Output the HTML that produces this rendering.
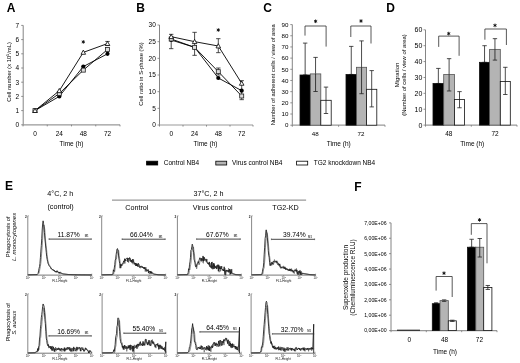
<!DOCTYPE html>
<html><head><meta charset="utf-8"><style>
html,body{margin:0;padding:0;background:#fff;overflow:hidden;}
svg{display:block;font-family:"Liberation Sans", sans-serif;filter:grayscale(1) blur(0.3px);}
text{stroke-linejoin:round;}
</style></head><body>
<svg width="520" height="363" viewBox="0 0 520 363">
<rect width="520" height="363" fill="#fff"/>
<text x="6.80" y="11.80" font-size="12" text-anchor="start" font-weight="bold" fill="#000">A</text>
<line x1="23.20" y1="125.30" x2="23.20" y2="25.40" stroke="#777" stroke-width="0.9"/>
<line x1="21.20" y1="124.80" x2="23.20" y2="124.80" stroke="#777" stroke-width="0.8"/>
<text x="19.10" y="127.14" font-size="6.5" text-anchor="end" fill="#000">0</text>
<line x1="21.20" y1="110.60" x2="23.20" y2="110.60" stroke="#777" stroke-width="0.8"/>
<text x="19.10" y="112.94" font-size="6.5" text-anchor="end" fill="#000">1</text>
<line x1="21.20" y1="96.40" x2="23.20" y2="96.40" stroke="#777" stroke-width="0.8"/>
<text x="19.10" y="98.74" font-size="6.5" text-anchor="end" fill="#000">2</text>
<line x1="21.20" y1="82.20" x2="23.20" y2="82.20" stroke="#777" stroke-width="0.8"/>
<text x="19.10" y="84.54" font-size="6.5" text-anchor="end" fill="#000">3</text>
<line x1="21.20" y1="68.00" x2="23.20" y2="68.00" stroke="#777" stroke-width="0.8"/>
<text x="19.10" y="70.34" font-size="6.5" text-anchor="end" fill="#000">4</text>
<line x1="21.20" y1="53.80" x2="23.20" y2="53.80" stroke="#777" stroke-width="0.8"/>
<text x="19.10" y="56.14" font-size="6.5" text-anchor="end" fill="#000">5</text>
<line x1="21.20" y1="39.60" x2="23.20" y2="39.60" stroke="#777" stroke-width="0.8"/>
<text x="19.10" y="41.94" font-size="6.5" text-anchor="end" fill="#000">6</text>
<line x1="21.20" y1="25.40" x2="23.20" y2="25.40" stroke="#777" stroke-width="0.8"/>
<text x="19.10" y="27.74" font-size="6.5" text-anchor="end" fill="#000">7</text>
<line x1="23.20" y1="124.80" x2="120.00" y2="124.80" stroke="#999" stroke-width="1.2"/>
<line x1="23.00" y1="124.80" x2="23.00" y2="126.40" stroke="#777" stroke-width="0.8"/>
<line x1="47.25" y1="124.80" x2="47.25" y2="126.40" stroke="#777" stroke-width="0.8"/>
<line x1="71.50" y1="124.80" x2="71.50" y2="126.40" stroke="#777" stroke-width="0.8"/>
<line x1="95.75" y1="124.80" x2="95.75" y2="126.40" stroke="#777" stroke-width="0.8"/>
<line x1="120.00" y1="124.80" x2="120.00" y2="126.40" stroke="#777" stroke-width="0.8"/>
<text x="35.00" y="136.00" font-size="6.5" text-anchor="middle" fill="#000">0</text>
<text x="59.30" y="136.00" font-size="6.5" text-anchor="middle" fill="#000">24</text>
<text x="83.30" y="136.00" font-size="6.5" text-anchor="middle" fill="#000">48</text>
<text x="107.50" y="136.00" font-size="6.5" text-anchor="middle" fill="#000">72</text>
<text x="71.50" y="146.00" font-size="6.5" text-anchor="middle" fill="#000">Time (h)</text>
<text x="11.00" y="71.90" font-size="5.8" text-anchor="middle" transform="rotate(-90 11.0 71.9)" fill="#000">Cell number (x 10<tspan dy="-1.8" font-size="3.8">5</tspan><tspan dy="1.8">/mL)</tspan></text>
<line x1="107.50" y1="41.45" x2="107.50" y2="45.56" stroke="#111" stroke-width="0.75"/>
<line x1="105.30" y1="41.45" x2="109.70" y2="41.45" stroke="#222" stroke-width="0.8"/>
<line x1="105.30" y1="45.56" x2="109.70" y2="45.56" stroke="#222" stroke-width="0.8"/>
<path d="M35.00,110.60 L59.30,96.40 L83.30,66.58 L107.50,53.80" stroke="#000" stroke-width="0.9" fill="none"/>
<path d="M35.00,110.60 L59.30,93.56 L83.30,70.13 L107.50,49.54" stroke="#000" stroke-width="0.9" fill="none"/>
<path d="M35.00,110.60 L59.30,90.72 L83.30,52.38 L107.50,43.58" stroke="#000" stroke-width="0.9" fill="none"/>
<circle cx="35.00" cy="110.60" r="2.1" fill="#000"/>
<circle cx="59.30" cy="96.40" r="2.1" fill="#000"/>
<circle cx="83.30" cy="66.58" r="2.1" fill="#000"/>
<circle cx="107.50" cy="53.80" r="2.1" fill="#000"/>
<rect x="33.00" y="108.60" width="4.0" height="4.0" fill="#ddd" stroke="#222" stroke-width="0.8"/>
<rect x="57.30" y="91.56" width="4.0" height="4.0" fill="#ddd" stroke="#222" stroke-width="0.8"/>
<rect x="81.30" y="68.13" width="4.0" height="4.0" fill="#ddd" stroke="#222" stroke-width="0.8"/>
<rect x="105.50" y="47.54" width="4.0" height="4.0" fill="#ddd" stroke="#222" stroke-width="0.8"/>
<path d="M35.00,108.30 L37.30,112.50 L32.70,112.50 Z" fill="#fff" stroke="#000" stroke-width="0.8"/>
<path d="M59.30,88.42 L61.60,92.62 L57.00,92.62 Z" fill="#fff" stroke="#000" stroke-width="0.8"/>
<path d="M83.30,50.08 L85.60,54.28 L81.00,54.28 Z" fill="#fff" stroke="#000" stroke-width="0.8"/>
<path d="M107.50,41.28 L109.80,45.48 L105.20,45.48 Z" fill="#fff" stroke="#000" stroke-width="0.8"/>
<path d="M83.30,40.10 L83.30,43.70 M84.86,41.00 L81.74,42.80 M84.86,42.80 L81.74,41.00 " stroke="#111" stroke-width="0.9" fill="none"/>
<circle cx="83.30" cy="41.90" r="0.7" fill="#111"/>
<text x="136.20" y="12.00" font-size="12" text-anchor="start" font-weight="bold" fill="#000">B</text>
<line x1="159.50" y1="125.50" x2="159.50" y2="25.01" stroke="#777" stroke-width="0.9"/>
<line x1="157.50" y1="125.00" x2="159.50" y2="125.00" stroke="#777" stroke-width="0.8"/>
<text x="155.80" y="127.34" font-size="6.5" text-anchor="end" fill="#000">0</text>
<line x1="157.50" y1="108.34" x2="159.50" y2="108.34" stroke="#777" stroke-width="0.8"/>
<text x="155.80" y="110.68" font-size="6.5" text-anchor="end" fill="#000">5</text>
<line x1="157.50" y1="91.67" x2="159.50" y2="91.67" stroke="#777" stroke-width="0.8"/>
<text x="155.80" y="94.01" font-size="6.5" text-anchor="end" fill="#000">10</text>
<line x1="157.50" y1="75.00" x2="159.50" y2="75.00" stroke="#777" stroke-width="0.8"/>
<text x="155.80" y="77.34" font-size="6.5" text-anchor="end" fill="#000">15</text>
<line x1="157.50" y1="58.34" x2="159.50" y2="58.34" stroke="#777" stroke-width="0.8"/>
<text x="155.80" y="60.68" font-size="6.5" text-anchor="end" fill="#000">20</text>
<line x1="157.50" y1="41.67" x2="159.50" y2="41.67" stroke="#777" stroke-width="0.8"/>
<text x="155.80" y="44.02" font-size="6.5" text-anchor="end" fill="#000">25</text>
<line x1="157.50" y1="25.01" x2="159.50" y2="25.01" stroke="#777" stroke-width="0.8"/>
<text x="155.80" y="27.35" font-size="6.5" text-anchor="end" fill="#000">30</text>
<line x1="159.50" y1="125.00" x2="253.00" y2="125.00" stroke="#999" stroke-width="1.2"/>
<line x1="159.50" y1="125.00" x2="159.50" y2="126.60" stroke="#777" stroke-width="0.8"/>
<line x1="183.00" y1="125.00" x2="183.00" y2="126.60" stroke="#777" stroke-width="0.8"/>
<line x1="206.50" y1="125.00" x2="206.50" y2="126.60" stroke="#777" stroke-width="0.8"/>
<line x1="230.00" y1="125.00" x2="230.00" y2="126.60" stroke="#777" stroke-width="0.8"/>
<line x1="253.00" y1="125.00" x2="253.00" y2="126.60" stroke="#777" stroke-width="0.8"/>
<text x="171.20" y="136.20" font-size="6.5" text-anchor="middle" fill="#000">0</text>
<text x="194.60" y="136.20" font-size="6.5" text-anchor="middle" fill="#000">24</text>
<text x="218.30" y="136.20" font-size="6.5" text-anchor="middle" fill="#000">48</text>
<text x="241.70" y="136.20" font-size="6.5" text-anchor="middle" fill="#000">72</text>
<text x="205.50" y="146.20" font-size="6.5" text-anchor="middle" fill="#000">Time (h)</text>
<text x="142.50" y="74.00" font-size="5.85" text-anchor="middle" transform="rotate(-90 142.5 74)" fill="#000">Cell ratio in S-phase (%)</text>
<line x1="171.20" y1="34.34" x2="171.20" y2="48.67" stroke="#111" stroke-width="0.75"/>
<line x1="169.00" y1="34.34" x2="173.40" y2="34.34" stroke="#222" stroke-width="0.8"/>
<line x1="169.00" y1="48.67" x2="173.40" y2="48.67" stroke="#222" stroke-width="0.8"/>
<line x1="194.60" y1="32.34" x2="194.60" y2="55.34" stroke="#111" stroke-width="0.75"/>
<line x1="192.40" y1="32.34" x2="196.80" y2="32.34" stroke="#222" stroke-width="0.8"/>
<line x1="192.40" y1="55.34" x2="196.80" y2="55.34" stroke="#222" stroke-width="0.8"/>
<line x1="218.30" y1="38.68" x2="218.30" y2="52.67" stroke="#111" stroke-width="0.75"/>
<line x1="216.10" y1="38.68" x2="220.50" y2="38.68" stroke="#222" stroke-width="0.8"/>
<line x1="216.10" y1="52.67" x2="220.50" y2="52.67" stroke="#222" stroke-width="0.8"/>
<line x1="218.30" y1="68.01" x2="218.30" y2="75.00" stroke="#111" stroke-width="0.75"/>
<line x1="216.10" y1="68.01" x2="220.50" y2="68.01" stroke="#222" stroke-width="0.8"/>
<line x1="216.10" y1="75.00" x2="220.50" y2="75.00" stroke="#222" stroke-width="0.8"/>
<line x1="241.70" y1="80.67" x2="241.70" y2="99.67" stroke="#111" stroke-width="0.75"/>
<line x1="239.50" y1="80.67" x2="243.90" y2="80.67" stroke="#222" stroke-width="0.8"/>
<line x1="239.50" y1="99.67" x2="243.90" y2="99.67" stroke="#222" stroke-width="0.8"/>
<path d="M171.20,40.01 L194.60,47.34 L218.30,78.00 L241.70,90.67" stroke="#000" stroke-width="0.9" fill="none"/>
<path d="M171.20,39.01 L194.60,47.34 L218.30,71.67 L241.70,96.00" stroke="#000" stroke-width="0.9" fill="none"/>
<path d="M171.20,36.68 L194.60,41.67 L218.30,46.01 L241.70,83.34" stroke="#000" stroke-width="0.9" fill="none"/>
<circle cx="171.20" cy="40.01" r="2.1" fill="#000"/>
<circle cx="194.60" cy="47.34" r="2.1" fill="#000"/>
<circle cx="218.30" cy="78.00" r="2.1" fill="#000"/>
<circle cx="241.70" cy="90.67" r="2.1" fill="#000"/>
<rect x="169.20" y="37.01" width="4.0" height="4.0" fill="#ddd" stroke="#222" stroke-width="0.8"/>
<rect x="192.60" y="45.34" width="4.0" height="4.0" fill="#ddd" stroke="#222" stroke-width="0.8"/>
<rect x="216.30" y="69.67" width="4.0" height="4.0" fill="#ddd" stroke="#222" stroke-width="0.8"/>
<rect x="239.70" y="94.00" width="4.0" height="4.0" fill="#ddd" stroke="#222" stroke-width="0.8"/>
<path d="M171.20,34.38 L173.50,38.58 L168.90,38.58 Z" fill="#fff" stroke="#000" stroke-width="0.8"/>
<path d="M194.60,39.38 L196.90,43.57 L192.30,43.57 Z" fill="#fff" stroke="#000" stroke-width="0.8"/>
<path d="M218.30,43.71 L220.60,47.91 L216.00,47.91 Z" fill="#fff" stroke="#000" stroke-width="0.8"/>
<path d="M241.70,81.04 L244.00,85.24 L239.40,85.24 Z" fill="#fff" stroke="#000" stroke-width="0.8"/>
<path d="M218.30,28.20 L218.30,31.80 M219.86,29.10 L216.74,30.90 M219.86,30.90 L216.74,29.10 " stroke="#111" stroke-width="0.9" fill="none"/>
<circle cx="218.30" cy="30.00" r="0.7" fill="#111"/>
<text x="263.20" y="12.00" font-size="12" text-anchor="start" font-weight="bold" fill="#000">C</text>
<line x1="292.30" y1="125.70" x2="292.30" y2="24.58" stroke="#777" stroke-width="0.9"/>
<line x1="290.30" y1="125.20" x2="292.30" y2="125.20" stroke="#777" stroke-width="0.8"/>
<text x="288.40" y="127.43" font-size="6.2" text-anchor="end" fill="#000">0</text>
<line x1="290.30" y1="114.02" x2="292.30" y2="114.02" stroke="#777" stroke-width="0.8"/>
<text x="288.40" y="116.25" font-size="6.2" text-anchor="end" fill="#000">10</text>
<line x1="290.30" y1="102.84" x2="292.30" y2="102.84" stroke="#777" stroke-width="0.8"/>
<text x="288.40" y="105.07" font-size="6.2" text-anchor="end" fill="#000">20</text>
<line x1="290.30" y1="91.66" x2="292.30" y2="91.66" stroke="#777" stroke-width="0.8"/>
<text x="288.40" y="93.89" font-size="6.2" text-anchor="end" fill="#000">30</text>
<line x1="290.30" y1="80.48" x2="292.30" y2="80.48" stroke="#777" stroke-width="0.8"/>
<text x="288.40" y="82.71" font-size="6.2" text-anchor="end" fill="#000">40</text>
<line x1="290.30" y1="69.30" x2="292.30" y2="69.30" stroke="#777" stroke-width="0.8"/>
<text x="288.40" y="71.53" font-size="6.2" text-anchor="end" fill="#000">50</text>
<line x1="290.30" y1="58.12" x2="292.30" y2="58.12" stroke="#777" stroke-width="0.8"/>
<text x="288.40" y="60.35" font-size="6.2" text-anchor="end" fill="#000">60</text>
<line x1="290.30" y1="46.94" x2="292.30" y2="46.94" stroke="#777" stroke-width="0.8"/>
<text x="288.40" y="49.17" font-size="6.2" text-anchor="end" fill="#000">70</text>
<line x1="290.30" y1="35.76" x2="292.30" y2="35.76" stroke="#777" stroke-width="0.8"/>
<text x="288.40" y="37.99" font-size="6.2" text-anchor="end" fill="#000">80</text>
<line x1="290.30" y1="24.58" x2="292.30" y2="24.58" stroke="#777" stroke-width="0.8"/>
<text x="288.40" y="26.81" font-size="6.2" text-anchor="end" fill="#000">90</text>
<line x1="292.30" y1="125.20" x2="385.00" y2="125.20" stroke="#999" stroke-width="1.2"/>
<line x1="292.30" y1="125.20" x2="292.30" y2="126.80" stroke="#777" stroke-width="0.8"/>
<line x1="338.60" y1="125.20" x2="338.60" y2="126.80" stroke="#777" stroke-width="0.8"/>
<line x1="385.00" y1="125.20" x2="385.00" y2="126.80" stroke="#777" stroke-width="0.8"/>
<text x="315.20" y="136.00" font-size="6.2" text-anchor="middle" fill="#000">48</text>
<text x="361.00" y="136.00" font-size="6.2" text-anchor="middle" fill="#000">72</text>
<text x="338.70" y="146.00" font-size="6.5" text-anchor="middle" fill="#000">Time (h)</text>
<text x="275.00" y="74.70" font-size="5.8" text-anchor="middle" transform="rotate(-90 275.0 74.7)" fill="#000">Number of adherent cells / view of area</text>
<line x1="305.15" y1="43.10" x2="305.15" y2="75.00" stroke="#111" stroke-width="0.75"/>
<line x1="302.95" y1="43.10" x2="307.35" y2="43.10" stroke="#222" stroke-width="0.8"/>
<line x1="302.95" y1="75.00" x2="307.35" y2="75.00" stroke="#222" stroke-width="0.8"/>
<rect x="300.00" y="75.00" width="10.30" height="50.20" fill="#000" stroke="#111" stroke-width="0.8"/>
<line x1="315.55" y1="57.40" x2="315.55" y2="91.50" stroke="#111" stroke-width="0.75"/>
<line x1="313.35" y1="57.40" x2="317.75" y2="57.40" stroke="#222" stroke-width="0.8"/>
<line x1="313.35" y1="91.50" x2="317.75" y2="91.50" stroke="#222" stroke-width="0.8"/>
<rect x="310.30" y="73.90" width="10.50" height="51.30" fill="#b4b4b4" stroke="#555" stroke-width="0.8"/>
<line x1="315.55" y1="73.90" x2="315.55" y2="91.50" stroke="#111" stroke-width="0.75"/>
<line x1="313.35" y1="91.50" x2="317.75" y2="91.50" stroke="#222" stroke-width="0.8"/>
<line x1="326.00" y1="87.10" x2="326.00" y2="113.50" stroke="#111" stroke-width="0.75"/>
<line x1="323.80" y1="87.10" x2="328.20" y2="87.10" stroke="#222" stroke-width="0.8"/>
<line x1="323.80" y1="113.50" x2="328.20" y2="113.50" stroke="#222" stroke-width="0.8"/>
<rect x="320.80" y="100.30" width="10.40" height="24.90" fill="#fff" stroke="#111" stroke-width="0.8"/>
<line x1="326.00" y1="100.30" x2="326.00" y2="113.50" stroke="#111" stroke-width="0.75"/>
<line x1="323.80" y1="113.50" x2="328.20" y2="113.50" stroke="#222" stroke-width="0.8"/>
<line x1="351.25" y1="46.40" x2="351.25" y2="74.45" stroke="#111" stroke-width="0.75"/>
<line x1="349.05" y1="46.40" x2="353.45" y2="46.40" stroke="#222" stroke-width="0.8"/>
<line x1="349.05" y1="74.45" x2="353.45" y2="74.45" stroke="#222" stroke-width="0.8"/>
<rect x="346.00" y="74.45" width="10.50" height="50.75" fill="#000" stroke="#111" stroke-width="0.8"/>
<line x1="361.55" y1="40.90" x2="361.55" y2="93.70" stroke="#111" stroke-width="0.75"/>
<line x1="359.35" y1="40.90" x2="363.75" y2="40.90" stroke="#222" stroke-width="0.8"/>
<line x1="359.35" y1="93.70" x2="363.75" y2="93.70" stroke="#222" stroke-width="0.8"/>
<rect x="356.50" y="67.30" width="10.10" height="57.90" fill="#b4b4b4" stroke="#555" stroke-width="0.8"/>
<line x1="361.55" y1="67.30" x2="361.55" y2="93.70" stroke="#111" stroke-width="0.75"/>
<line x1="359.35" y1="93.70" x2="363.75" y2="93.70" stroke="#222" stroke-width="0.8"/>
<line x1="371.70" y1="70.60" x2="371.70" y2="106.90" stroke="#111" stroke-width="0.75"/>
<line x1="369.50" y1="70.60" x2="373.90" y2="70.60" stroke="#222" stroke-width="0.8"/>
<line x1="369.50" y1="106.90" x2="373.90" y2="106.90" stroke="#222" stroke-width="0.8"/>
<rect x="366.60" y="89.30" width="10.20" height="35.90" fill="#fff" stroke="#111" stroke-width="0.8"/>
<line x1="371.70" y1="89.30" x2="371.70" y2="106.90" stroke="#111" stroke-width="0.75"/>
<line x1="369.50" y1="106.90" x2="373.90" y2="106.90" stroke="#222" stroke-width="0.8"/>
<path d="M305.00,35.60 L305.00,26.00 L326.10,26.00 L326.10,46.60" stroke="#222" stroke-width="0.75" fill="none"/>
<path d="M315.60,19.50 L315.60,23.10 M317.16,20.40 L314.04,22.20 M317.16,22.20 L314.04,20.40 " stroke="#111" stroke-width="0.9" fill="none"/>
<circle cx="315.60" cy="21.30" r="0.7" fill="#111"/>
<path d="M350.80,37.00 L350.80,26.00 L371.00,26.00 L371.00,43.50" stroke="#222" stroke-width="0.75" fill="none"/>
<path d="M361.00,19.20 L361.00,22.80 M362.56,20.10 L359.44,21.90 M362.56,21.90 L359.44,20.10 " stroke="#111" stroke-width="0.9" fill="none"/>
<circle cx="361.00" cy="21.00" r="0.7" fill="#111"/>
<text x="386.20" y="11.70" font-size="12" text-anchor="start" font-weight="bold" fill="#000">D</text>
<line x1="425.50" y1="125.60" x2="425.50" y2="29.82" stroke="#777" stroke-width="0.9"/>
<line x1="423.50" y1="125.10" x2="425.50" y2="125.10" stroke="#777" stroke-width="0.8"/>
<text x="422.40" y="127.62" font-size="7.0" text-anchor="end" fill="#000">0</text>
<line x1="423.50" y1="109.22" x2="425.50" y2="109.22" stroke="#777" stroke-width="0.8"/>
<text x="422.40" y="111.74" font-size="7.0" text-anchor="end" fill="#000">10</text>
<line x1="423.50" y1="93.34" x2="425.50" y2="93.34" stroke="#777" stroke-width="0.8"/>
<text x="422.40" y="95.86" font-size="7.0" text-anchor="end" fill="#000">20</text>
<line x1="423.50" y1="77.46" x2="425.50" y2="77.46" stroke="#777" stroke-width="0.8"/>
<text x="422.40" y="79.98" font-size="7.0" text-anchor="end" fill="#000">30</text>
<line x1="423.50" y1="61.58" x2="425.50" y2="61.58" stroke="#777" stroke-width="0.8"/>
<text x="422.40" y="64.10" font-size="7.0" text-anchor="end" fill="#000">40</text>
<line x1="423.50" y1="45.70" x2="425.50" y2="45.70" stroke="#777" stroke-width="0.8"/>
<text x="422.40" y="48.22" font-size="7.0" text-anchor="end" fill="#000">50</text>
<line x1="423.50" y1="29.82" x2="425.50" y2="29.82" stroke="#777" stroke-width="0.8"/>
<text x="422.40" y="32.34" font-size="7.0" text-anchor="end" fill="#000">60</text>
<line x1="425.50" y1="125.10" x2="517.00" y2="125.10" stroke="#999" stroke-width="1.2"/>
<line x1="425.50" y1="125.10" x2="425.50" y2="126.70" stroke="#777" stroke-width="0.8"/>
<line x1="471.30" y1="125.10" x2="471.30" y2="126.70" stroke="#777" stroke-width="0.8"/>
<line x1="517.00" y1="125.10" x2="517.00" y2="126.70" stroke="#777" stroke-width="0.8"/>
<text x="448.80" y="136.20" font-size="6.5" text-anchor="middle" fill="#000">48</text>
<text x="495.10" y="136.20" font-size="6.5" text-anchor="middle" fill="#000">72</text>
<text x="472.30" y="146.10" font-size="6.5" text-anchor="middle" fill="#000">Time (h)</text>
<text x="398.70" y="75.00" font-size="6.0" text-anchor="middle" transform="rotate(-90 398.7 75)" fill="#000">Migration</text>
<text x="405.90" y="75.00" font-size="5.9" text-anchor="middle" transform="rotate(-90 405.9 75)" fill="#000">(Number of cells / view of area)</text>
<line x1="438.35" y1="68.42" x2="438.35" y2="83.46" stroke="#111" stroke-width="0.75"/>
<line x1="436.15" y1="68.42" x2="440.55" y2="68.42" stroke="#222" stroke-width="0.8"/>
<line x1="436.15" y1="83.46" x2="440.55" y2="83.46" stroke="#222" stroke-width="0.8"/>
<rect x="433.00" y="83.46" width="10.70" height="41.64" fill="#000" stroke="#111" stroke-width="0.8"/>
<line x1="449.10" y1="58.66" x2="449.10" y2="90.98" stroke="#111" stroke-width="0.75"/>
<line x1="446.90" y1="58.66" x2="451.30" y2="58.66" stroke="#222" stroke-width="0.8"/>
<line x1="446.90" y1="90.98" x2="451.30" y2="90.98" stroke="#222" stroke-width="0.8"/>
<rect x="443.70" y="74.50" width="10.80" height="50.60" fill="#b4b4b4" stroke="#555" stroke-width="0.8"/>
<line x1="449.10" y1="74.50" x2="449.10" y2="90.98" stroke="#111" stroke-width="0.75"/>
<line x1="446.90" y1="90.98" x2="451.30" y2="90.98" stroke="#222" stroke-width="0.8"/>
<line x1="459.50" y1="91.62" x2="459.50" y2="107.78" stroke="#111" stroke-width="0.75"/>
<line x1="457.30" y1="91.62" x2="461.70" y2="91.62" stroke="#222" stroke-width="0.8"/>
<line x1="457.30" y1="107.78" x2="461.70" y2="107.78" stroke="#222" stroke-width="0.8"/>
<rect x="454.50" y="99.46" width="10.00" height="25.64" fill="#fff" stroke="#111" stroke-width="0.8"/>
<line x1="459.50" y1="99.46" x2="459.50" y2="107.78" stroke="#111" stroke-width="0.75"/>
<line x1="457.30" y1="107.78" x2="461.70" y2="107.78" stroke="#222" stroke-width="0.8"/>
<line x1="484.55" y1="45.70" x2="484.55" y2="62.34" stroke="#111" stroke-width="0.75"/>
<line x1="482.35" y1="45.70" x2="486.75" y2="45.70" stroke="#222" stroke-width="0.8"/>
<line x1="482.35" y1="62.34" x2="486.75" y2="62.34" stroke="#222" stroke-width="0.8"/>
<rect x="479.50" y="62.34" width="10.10" height="62.76" fill="#000" stroke="#111" stroke-width="0.8"/>
<line x1="494.95" y1="38.66" x2="494.95" y2="60.10" stroke="#111" stroke-width="0.75"/>
<line x1="492.75" y1="38.66" x2="497.15" y2="38.66" stroke="#222" stroke-width="0.8"/>
<line x1="492.75" y1="60.10" x2="497.15" y2="60.10" stroke="#222" stroke-width="0.8"/>
<rect x="489.60" y="49.38" width="10.70" height="75.72" fill="#b4b4b4" stroke="#555" stroke-width="0.8"/>
<line x1="494.95" y1="49.38" x2="494.95" y2="60.10" stroke="#111" stroke-width="0.75"/>
<line x1="492.75" y1="60.10" x2="497.15" y2="60.10" stroke="#222" stroke-width="0.8"/>
<line x1="505.30" y1="67.30" x2="505.30" y2="94.50" stroke="#111" stroke-width="0.75"/>
<line x1="503.10" y1="67.30" x2="507.50" y2="67.30" stroke="#222" stroke-width="0.8"/>
<line x1="503.10" y1="94.50" x2="507.50" y2="94.50" stroke="#222" stroke-width="0.8"/>
<rect x="500.30" y="81.54" width="10.00" height="43.56" fill="#fff" stroke="#111" stroke-width="0.8"/>
<line x1="505.30" y1="81.54" x2="505.30" y2="94.50" stroke="#111" stroke-width="0.75"/>
<line x1="503.10" y1="94.50" x2="507.50" y2="94.50" stroke="#222" stroke-width="0.8"/>
<path d="M438.70,46.90 L438.70,36.10 L459.10,36.10 L459.10,55.80" stroke="#222" stroke-width="0.75" fill="none"/>
<path d="M448.70,31.80 L448.70,35.40 M450.26,32.70 L447.14,34.50 M450.26,34.50 L447.14,32.70 " stroke="#111" stroke-width="0.9" fill="none"/>
<circle cx="448.70" cy="33.60" r="0.7" fill="#111"/>
<path d="M484.90,39.70 L484.90,29.00 L506.40,29.00 L506.40,45.00" stroke="#222" stroke-width="0.75" fill="none"/>
<path d="M495.00,23.60 L495.00,27.20 M496.56,24.50 L493.44,26.30 M496.56,26.30 L493.44,24.50 " stroke="#111" stroke-width="0.9" fill="none"/>
<circle cx="495.00" cy="25.40" r="0.7" fill="#111"/>
<rect x="146.60" y="161.20" width="11.10" height="3.80" fill="#000" stroke="#000" stroke-width="0.8"/>
<text x="163.80" y="165.10" font-size="6.5" text-anchor="start" fill="#000">Control NB4</text>
<rect x="215.80" y="161.20" width="10.90" height="3.80" fill="#b4b4b4" stroke="#000" stroke-width="0.8"/>
<text x="232.00" y="165.10" font-size="6.5" text-anchor="start" fill="#000">Virus control NB4</text>
<rect x="296.60" y="161.20" width="11.10" height="3.80" fill="#fff" stroke="#000" stroke-width="0.8"/>
<text x="313.80" y="165.10" font-size="6.5" text-anchor="start" fill="#000">TG2 knockdown NB4</text>
<text x="5.10" y="189.80" font-size="12" text-anchor="start" font-weight="bold" fill="#000">E</text>
<text x="60.30" y="196.20" font-size="7.2" text-anchor="middle" fill="#000">4°C, 2 h</text>
<text x="60.60" y="209.40" font-size="7.2" text-anchor="middle" fill="#000">(control)</text>
<line x1="112.00" y1="200.10" x2="306.10" y2="200.10" stroke="#999" stroke-width="1.2"/>
<text x="208.50" y="196.00" font-size="7.2" text-anchor="middle" fill="#000">37°C, 2 h</text>
<text x="136.80" y="209.90" font-size="7.2" text-anchor="middle" fill="#000">Control</text>
<text x="212.70" y="209.90" font-size="7.2" text-anchor="middle" fill="#000">Virus control</text>
<text x="285.50" y="209.90" font-size="7.2" text-anchor="middle" fill="#000">TG2-KD</text>
<text x="10.20" y="236.80" font-size="5.8" text-anchor="middle" transform="rotate(-90 10.2 236.8)" fill="#000">Phagocytosis of</text>
<text x="16.30" y="237.00" font-size="5.9" text-anchor="middle" transform="rotate(-90 16.3 237.0)" fill="#000"><tspan font-style="italic">L. monocytogenes</tspan></text>
<text x="9.60" y="322.20" font-size="5.4" text-anchor="middle" transform="rotate(-90 9.6 322.2)" fill="#000">Phagocytosis of</text>
<text x="15.80" y="322.60" font-size="5.5" text-anchor="middle" transform="rotate(-90 15.8 322.6)" fill="#000"><tspan font-style="italic">S. aureus</tspan></text>
<line x1="27.80" y1="215.80" x2="27.80" y2="275.10" stroke="#888" stroke-width="1.0"/>
<line x1="27.80" y1="215.80" x2="29.00" y2="215.80" stroke="#888" stroke-width="0.6"/>
<line x1="27.80" y1="275.10" x2="91.80" y2="275.10" stroke="#777" stroke-width="1.0"/>
<line x1="91.80" y1="275.10" x2="91.80" y2="273.60" stroke="#888" stroke-width="0.6"/>
<line x1="27.80" y1="275.10" x2="27.80" y2="276.10" stroke="#666" stroke-width="0.5"/>
<text x="27.80" y="278.50" font-size="2.9" text-anchor="middle" fill="#222">10<tspan dy="-0.8" font-size="1.8">0</tspan></text>
<line x1="43.80" y1="275.10" x2="43.80" y2="276.10" stroke="#666" stroke-width="0.5"/>
<text x="43.80" y="278.50" font-size="2.9" text-anchor="middle" fill="#222">10<tspan dy="-0.8" font-size="1.8">1</tspan></text>
<line x1="59.80" y1="275.10" x2="59.80" y2="276.10" stroke="#666" stroke-width="0.5"/>
<text x="59.80" y="278.50" font-size="2.9" text-anchor="middle" fill="#222">10<tspan dy="-0.8" font-size="1.8">2</tspan></text>
<line x1="75.80" y1="275.10" x2="75.80" y2="276.10" stroke="#666" stroke-width="0.5"/>
<text x="75.80" y="278.50" font-size="2.9" text-anchor="middle" fill="#222">10<tspan dy="-0.8" font-size="1.8">3</tspan></text>
<line x1="91.80" y1="275.10" x2="91.80" y2="276.10" stroke="#666" stroke-width="0.5"/>
<text x="91.80" y="278.50" font-size="2.9" text-anchor="middle" fill="#222">10<tspan dy="-0.8" font-size="1.8">4</tspan></text>
<text x="59.80" y="281.70" font-size="3.1" text-anchor="middle" fill="#111">FL1-Height</text>
<text x="26.80" y="217.80" font-size="3.2" text-anchor="end" font-weight="bold" fill="#222">2</text>
<path d="M28.60,274.80 L29.05,274.79 L29.50,274.78 L29.95,274.77 L30.40,274.76 L30.85,274.75 L31.30,274.74 L31.75,274.73 L32.20,274.72 L32.65,274.71 L33.10,274.70 L33.55,274.69 L34.00,274.68 L34.45,274.67 L34.90,274.66 L35.35,274.65 L35.80,274.64 L36.25,274.63 L36.70,274.62 L37.15,274.61 L37.60,274.60 L38.05,274.15 L38.50,273.70 L38.95,273.25 L39.40,271.68 L39.85,269.02 L40.30,266.75 L40.75,263.72 L41.20,259.39 L41.65,253.30 L42.10,247.69 L42.55,240.60 L43.00,233.09 L43.45,227.49 L43.90,225.02 L44.35,226.86 L44.80,229.64 L45.25,235.73 L45.70,242.08 L46.15,245.57 L46.60,249.77 L47.05,254.51 L47.50,258.04 L47.95,260.95 L48.40,262.36 L48.85,264.41 L49.30,264.81 L49.75,265.65 L50.20,266.65 L50.65,266.70 L51.10,267.86 L51.55,268.68 L52.00,269.31 L52.45,270.31 L52.90,269.78 L53.35,269.82 L53.80,270.94 L54.25,270.06 L54.70,271.21 L55.15,272.06 L55.60,271.16 L56.05,272.49 L56.50,272.19 L56.95,272.23 L57.40,270.64 L57.85,272.18 L58.30,272.00 L58.75,271.97 L59.20,273.39 L59.65,273.25 L60.10,271.83 L60.55,273.55 L61.00,272.58 L61.45,273.10 L61.90,273.27 L62.35,273.44 L62.80,273.60 L63.25,273.77 L63.70,273.91 L64.15,273.97 L64.60,274.02 L65.05,274.07 L65.50,274.13 L65.95,274.18 L66.40,274.24 L66.85,274.29 L67.30,274.34 L67.75,274.40 L68.20,274.45 L68.65,274.50 L69.10,274.52 L69.55,274.53 L70.00,274.54 L70.45,274.56 L70.90,274.57 L71.35,274.58 L71.80,274.60 L72.25,274.61 L72.70,274.62 L73.15,274.64 L73.60,274.65 L74.05,274.66 L74.50,274.68 L74.95,274.69 L75.40,274.70 L75.85,274.72 L76.30,274.73 L76.75,274.74 L77.20,274.76 L77.65,274.77 L78.10,274.79 L78.55,274.80 L79.00,274.80 L79.45,274.81 L79.90,274.81 L80.35,274.81 L80.80,274.82 L81.25,274.82 L81.70,274.82 L82.15,274.83 L82.60,274.83 L83.05,274.83 L83.50,274.84 L83.95,274.84 L84.40,274.84 L84.85,274.84 L85.30,274.85 L85.75,274.85 L86.20,274.85 L86.65,274.86 L87.10,274.86 L87.55,274.86 L88.00,274.87 L88.45,274.87 L88.90,274.87 L89.35,274.88 L89.80,274.88 L90.25,274.88 L90.70,274.89 L91.15,274.89 L91.60,274.89" stroke="#555" stroke-width="0.65" fill="none"/>
<path d="M27.80,274.80 L28.25,274.79 L28.70,274.78 L29.15,274.77 L29.60,274.76 L30.05,274.75 L30.50,274.74 L30.95,274.73 L31.40,274.72 L31.85,274.71 L32.30,274.70 L32.75,274.69 L33.20,274.68 L33.65,274.67 L34.10,274.66 L34.55,274.65 L35.00,274.64 L35.45,274.63 L35.90,274.62 L36.35,274.61 L36.80,274.60 L37.25,274.15 L37.70,273.70 L38.15,273.25 L38.60,270.86 L39.05,268.38 L39.50,266.67 L39.95,263.48 L40.40,257.65 L40.85,251.08 L41.30,245.61 L41.75,238.32 L42.20,230.00 L42.65,224.03 L43.10,220.83 L43.55,223.49 L44.00,226.70 L44.45,232.58 L44.90,238.98 L45.35,243.02 L45.80,248.19 L46.25,252.22 L46.70,256.71 L47.15,259.46 L47.60,261.34 L48.05,263.50 L48.50,264.05 L48.95,265.58 L49.40,266.19 L49.85,266.64 L50.30,267.25 L50.75,267.99 L51.20,269.04 L51.65,268.73 L52.10,269.36 L52.55,269.49 L53.00,270.09 L53.45,269.88 L53.90,270.68 L54.35,270.77 L54.80,270.77 L55.25,271.87 L55.70,271.75 L56.15,271.95 L56.60,270.84 L57.05,272.00 L57.50,271.76 L57.95,271.90 L58.40,272.48 L58.85,273.25 L59.30,272.12 L59.75,272.97 L60.20,272.58 L60.65,273.10 L61.10,273.27 L61.55,273.44 L62.00,273.60 L62.45,273.77 L62.90,273.91 L63.35,273.97 L63.80,274.02 L64.25,274.07 L64.70,274.13 L65.15,274.18 L65.60,274.24 L66.05,274.29 L66.50,274.34 L66.95,274.40 L67.40,274.45 L67.85,274.50 L68.30,274.52 L68.75,274.53 L69.20,274.54 L69.65,274.56 L70.10,274.57 L70.55,274.58 L71.00,274.60 L71.45,274.61 L71.90,274.62 L72.35,274.64 L72.80,274.65 L73.25,274.66 L73.70,274.68 L74.15,274.69 L74.60,274.70 L75.05,274.72 L75.50,274.73 L75.95,274.74 L76.40,274.76 L76.85,274.77 L77.30,274.79 L77.75,274.80 L78.20,274.80 L78.65,274.81 L79.10,274.81 L79.55,274.81 L80.00,274.82 L80.45,274.82 L80.90,274.82 L81.35,274.83 L81.80,274.83 L82.25,274.83 L82.70,274.84 L83.15,274.84 L83.60,274.84 L84.05,274.84 L84.50,274.85 L84.95,274.85 L85.40,274.85 L85.85,274.86 L86.30,274.86 L86.75,274.86 L87.20,274.87 L87.65,274.87 L88.10,274.87 L88.55,274.88 L89.00,274.88 L89.45,274.88 L89.90,274.89 L90.35,274.89 L90.80,274.89 L91.25,274.90 L91.70,274.90" stroke="#1a1a1a" stroke-width="0.85" fill="none"/>
<line x1="49.00" y1="239.10" x2="91.30" y2="239.10" stroke="#333" stroke-width="0.9"/>
<line x1="49.00" y1="238.30" x2="49.00" y2="239.90" stroke="#333" stroke-width="0.6"/>
<line x1="91.30" y1="238.30" x2="91.30" y2="239.90" stroke="#333" stroke-width="0.6"/>
<text x="68.50" y="237.20" font-size="6.7" text-anchor="middle" fill="#000">11.87%</text>
<text x="86.70" y="237.40" font-size="2.8" text-anchor="middle" font-weight="bold" fill="#444">M1</text>
<line x1="101.70" y1="215.80" x2="101.70" y2="275.10" stroke="#888" stroke-width="1.0"/>
<line x1="101.70" y1="215.80" x2="102.90" y2="215.80" stroke="#888" stroke-width="0.6"/>
<line x1="101.70" y1="275.10" x2="165.70" y2="275.10" stroke="#777" stroke-width="1.0"/>
<line x1="165.70" y1="275.10" x2="165.70" y2="273.60" stroke="#888" stroke-width="0.6"/>
<line x1="101.70" y1="275.10" x2="101.70" y2="276.10" stroke="#666" stroke-width="0.5"/>
<text x="101.70" y="278.50" font-size="2.9" text-anchor="middle" fill="#222">10<tspan dy="-0.8" font-size="1.8">0</tspan></text>
<line x1="117.70" y1="275.10" x2="117.70" y2="276.10" stroke="#666" stroke-width="0.5"/>
<text x="117.70" y="278.50" font-size="2.9" text-anchor="middle" fill="#222">10<tspan dy="-0.8" font-size="1.8">1</tspan></text>
<line x1="133.70" y1="275.10" x2="133.70" y2="276.10" stroke="#666" stroke-width="0.5"/>
<text x="133.70" y="278.50" font-size="2.9" text-anchor="middle" fill="#222">10<tspan dy="-0.8" font-size="1.8">2</tspan></text>
<line x1="149.70" y1="275.10" x2="149.70" y2="276.10" stroke="#666" stroke-width="0.5"/>
<text x="149.70" y="278.50" font-size="2.9" text-anchor="middle" fill="#222">10<tspan dy="-0.8" font-size="1.8">3</tspan></text>
<line x1="165.70" y1="275.10" x2="165.70" y2="276.10" stroke="#666" stroke-width="0.5"/>
<text x="165.70" y="278.50" font-size="2.9" text-anchor="middle" fill="#222">10<tspan dy="-0.8" font-size="1.8">4</tspan></text>
<text x="133.70" y="281.70" font-size="3.1" text-anchor="middle" fill="#111">FL1-Height</text>
<text x="100.70" y="217.80" font-size="3.2" text-anchor="end" font-weight="bold" fill="#222">2</text>
<path d="M102.50,274.80 L102.95,274.79 L103.40,274.78 L103.85,274.77 L104.30,274.76 L104.75,274.75 L105.20,274.75 L105.65,274.74 L106.10,274.73 L106.55,274.72 L107.00,274.71 L107.45,274.70 L107.90,274.69 L108.35,274.68 L108.80,274.67 L109.25,274.67 L109.70,274.66 L110.15,274.65 L110.60,274.64 L111.05,274.63 L111.50,274.62 L111.95,274.61 L112.40,274.60 L112.85,274.45 L113.30,274.27 L113.75,273.91 L114.20,270.49 L114.65,271.75 L115.10,268.93 L115.55,265.05 L116.00,259.69 L116.45,259.27 L116.90,255.54 L117.35,253.16 L117.80,251.37 L118.25,250.02 L118.70,250.40 L119.15,255.57 L119.60,258.61 L120.05,261.13 L120.50,264.34 L120.95,268.10 L121.40,264.00 L121.85,264.65 L122.30,265.57 L122.75,263.81 L123.20,264.08 L123.65,263.00 L124.10,263.54 L124.55,261.67 L125.00,263.48 L125.45,259.36 L125.90,260.83 L126.35,260.73 L126.80,259.77 L127.25,259.04 L127.70,259.85 L128.15,258.32 L128.60,262.60 L129.05,260.52 L129.50,260.71 L129.95,259.79 L130.40,258.30 L130.85,260.49 L131.30,260.60 L131.75,262.76 L132.20,262.40 L132.65,262.12 L133.10,264.29 L133.55,259.38 L134.00,263.04 L134.45,263.67 L134.90,263.12 L135.35,265.38 L135.80,265.52 L136.25,263.12 L136.70,265.96 L137.15,264.23 L137.60,266.96 L138.05,265.81 L138.50,266.88 L138.95,264.41 L139.40,264.90 L139.85,265.90 L140.30,268.15 L140.75,267.84 L141.20,267.29 L141.65,266.91 L142.10,266.88 L142.55,266.43 L143.00,267.65 L143.45,268.02 L143.90,267.51 L144.35,267.97 L144.80,267.41 L145.25,271.65 L145.70,267.86 L146.15,267.38 L146.60,271.73 L147.05,269.71 L147.50,269.84 L147.95,271.21 L148.40,269.57 L148.85,271.10 L149.30,274.12 L149.75,271.54 L150.20,272.36 L150.65,272.91 L151.10,270.97 L151.55,273.59 L152.00,271.90 L152.45,273.22 L152.90,273.51 L153.35,273.33 L153.80,273.63 L154.25,273.93 L154.70,274.13 L155.15,274.20 L155.60,274.27 L156.05,274.33 L156.50,274.40 L156.95,274.47 L157.40,274.54 L157.85,274.60 L158.30,274.67 L158.75,274.71 L159.20,274.72 L159.65,274.73 L160.10,274.74 L160.55,274.75 L161.00,274.76 L161.45,274.77 L161.90,274.79 L162.35,274.80 L162.80,274.81 L163.25,274.82 L163.70,274.83 L164.15,274.84 L164.60,274.85 L165.05,274.86 L165.50,274.88" stroke="#555" stroke-width="0.65" fill="none"/>
<path d="M101.70,274.80 L102.15,274.79 L102.60,274.78 L103.05,274.77 L103.50,274.76 L103.95,274.75 L104.40,274.75 L104.85,274.74 L105.30,274.73 L105.75,274.72 L106.20,274.71 L106.65,274.70 L107.10,274.69 L107.55,274.68 L108.00,274.67 L108.45,274.67 L108.90,274.66 L109.35,274.65 L109.80,274.64 L110.25,274.63 L110.70,274.62 L111.15,274.61 L111.60,274.60 L112.05,274.45 L112.50,274.27 L112.95,273.91 L113.40,269.84 L113.85,271.11 L114.30,267.91 L114.75,264.55 L115.20,260.26 L115.65,258.90 L116.10,254.71 L116.55,251.90 L117.00,249.07 L117.45,248.57 L117.90,250.26 L118.35,252.89 L118.80,258.01 L119.25,260.88 L119.70,263.69 L120.15,268.18 L120.60,264.30 L121.05,265.72 L121.50,265.91 L121.95,264.33 L122.40,263.47 L122.85,262.75 L123.30,262.75 L123.75,260.86 L124.20,262.14 L124.65,258.71 L125.10,260.97 L125.55,259.46 L126.00,258.78 L126.45,258.32 L126.90,258.67 L127.35,257.83 L127.80,261.83 L128.25,258.36 L128.70,258.69 L129.15,259.23 L129.60,257.54 L130.05,260.32 L130.50,259.69 L130.95,261.98 L131.40,260.04 L131.85,262.32 L132.30,262.64 L132.75,259.07 L133.20,261.11 L133.65,262.20 L134.10,262.33 L134.55,264.25 L135.00,264.16 L135.45,262.97 L135.90,265.84 L136.35,263.72 L136.80,266.03 L137.25,264.37 L137.70,265.82 L138.15,263.13 L138.60,264.09 L139.05,265.85 L139.50,267.46 L139.95,266.59 L140.40,266.14 L140.85,267.39 L141.30,266.38 L141.75,265.96 L142.20,267.31 L142.65,267.99 L143.10,267.05 L143.55,268.43 L144.00,267.52 L144.45,268.93 L144.90,267.19 L145.35,269.34 L145.80,270.36 L146.25,269.41 L146.70,270.37 L147.15,270.91 L147.60,270.31 L148.05,269.70 L148.50,272.96 L148.95,271.11 L149.40,271.52 L149.85,271.81 L150.30,271.14 L150.75,273.59 L151.20,271.89 L151.65,273.09 L152.10,273.04 L152.55,273.33 L153.00,273.63 L153.45,273.93 L153.90,274.13 L154.35,274.20 L154.80,274.27 L155.25,274.33 L155.70,274.40 L156.15,274.47 L156.60,274.54 L157.05,274.60 L157.50,274.67 L157.95,274.71 L158.40,274.72 L158.85,274.73 L159.30,274.74 L159.75,274.75 L160.20,274.76 L160.65,274.77 L161.10,274.79 L161.55,274.80 L162.00,274.81 L162.45,274.82 L162.90,274.83 L163.35,274.84 L163.80,274.85 L164.25,274.86 L164.70,274.88 L165.15,274.89 L165.60,274.90" stroke="#1a1a1a" stroke-width="0.85" fill="none"/>
<line x1="122.10" y1="239.20" x2="165.20" y2="239.20" stroke="#333" stroke-width="0.9"/>
<line x1="122.10" y1="238.40" x2="122.10" y2="240.00" stroke="#333" stroke-width="0.6"/>
<line x1="165.20" y1="238.40" x2="165.20" y2="240.00" stroke="#333" stroke-width="0.6"/>
<text x="141.40" y="237.30" font-size="6.7" text-anchor="middle" fill="#000">66.04%</text>
<text x="160.60" y="237.50" font-size="2.8" text-anchor="middle" font-weight="bold" fill="#444">M1</text>
<line x1="177.40" y1="215.80" x2="177.40" y2="275.10" stroke="#888" stroke-width="1.0"/>
<line x1="177.40" y1="215.80" x2="178.60" y2="215.80" stroke="#888" stroke-width="0.6"/>
<line x1="177.40" y1="275.10" x2="241.40" y2="275.10" stroke="#777" stroke-width="1.0"/>
<line x1="241.40" y1="275.10" x2="241.40" y2="273.60" stroke="#888" stroke-width="0.6"/>
<line x1="177.40" y1="275.10" x2="177.40" y2="276.10" stroke="#666" stroke-width="0.5"/>
<text x="177.40" y="278.50" font-size="2.9" text-anchor="middle" fill="#222">10<tspan dy="-0.8" font-size="1.8">0</tspan></text>
<line x1="193.40" y1="275.10" x2="193.40" y2="276.10" stroke="#666" stroke-width="0.5"/>
<text x="193.40" y="278.50" font-size="2.9" text-anchor="middle" fill="#222">10<tspan dy="-0.8" font-size="1.8">1</tspan></text>
<line x1="209.40" y1="275.10" x2="209.40" y2="276.10" stroke="#666" stroke-width="0.5"/>
<text x="209.40" y="278.50" font-size="2.9" text-anchor="middle" fill="#222">10<tspan dy="-0.8" font-size="1.8">2</tspan></text>
<line x1="225.40" y1="275.10" x2="225.40" y2="276.10" stroke="#666" stroke-width="0.5"/>
<text x="225.40" y="278.50" font-size="2.9" text-anchor="middle" fill="#222">10<tspan dy="-0.8" font-size="1.8">3</tspan></text>
<line x1="241.40" y1="275.10" x2="241.40" y2="276.10" stroke="#666" stroke-width="0.5"/>
<text x="241.40" y="278.50" font-size="2.9" text-anchor="middle" fill="#222">10<tspan dy="-0.8" font-size="1.8">4</tspan></text>
<text x="209.40" y="281.70" font-size="3.1" text-anchor="middle" fill="#111">FL1-Height</text>
<text x="176.40" y="217.80" font-size="3.2" text-anchor="end" font-weight="bold" fill="#222">2</text>
<path d="M178.20,274.80 L178.65,274.79 L179.10,274.78 L179.55,274.77 L180.00,274.76 L180.45,274.75 L180.90,274.74 L181.35,274.73 L181.80,274.72 L182.25,274.71 L182.70,274.71 L183.15,274.70 L183.60,274.69 L184.05,274.68 L184.50,274.67 L184.95,274.66 L185.40,274.65 L185.85,274.64 L186.30,274.63 L186.75,274.62 L187.20,274.61 L187.65,274.60 L188.10,274.40 L188.55,274.18 L189.00,273.44 L189.45,270.58 L189.90,269.90 L190.35,265.97 L190.80,264.08 L191.25,260.47 L191.70,252.60 L192.15,250.13 L192.60,249.29 L193.05,248.08 L193.50,246.87 L193.95,251.31 L194.40,253.31 L194.85,258.87 L195.30,262.07 L195.75,263.84 L196.20,266.68 L196.65,268.86 L197.10,266.64 L197.55,263.63 L198.00,264.34 L198.45,264.21 L198.90,262.85 L199.35,264.67 L199.80,262.32 L200.25,260.76 L200.70,259.95 L201.15,261.07 L201.60,261.55 L202.05,261.29 L202.50,259.33 L202.95,262.92 L203.40,263.24 L203.85,257.29 L204.30,260.87 L204.75,259.21 L205.20,259.88 L205.65,261.36 L206.10,259.31 L206.55,261.58 L207.00,259.07 L207.45,262.88 L207.90,262.40 L208.35,263.92 L208.80,265.07 L209.25,265.56 L209.70,265.95 L210.15,263.16 L210.60,266.45 L211.05,266.18 L211.50,267.42 L211.95,267.97 L212.40,261.88 L212.85,269.43 L213.30,266.99 L213.75,267.45 L214.20,263.13 L214.65,268.72 L215.10,266.39 L215.55,267.51 L216.00,267.91 L216.45,269.11 L216.90,265.03 L217.35,268.14 L217.80,268.66 L218.25,267.23 L218.70,264.78 L219.15,272.21 L219.60,266.24 L220.05,266.24 L220.50,271.34 L220.95,267.88 L221.40,268.64 L221.85,266.15 L222.30,270.55 L222.75,269.33 L223.20,270.94 L223.65,269.36 L224.10,269.47 L224.55,271.07 L225.00,268.31 L225.45,273.80 L225.90,274.90 L226.35,269.89 L226.80,272.18 L227.25,269.94 L227.70,270.88 L228.15,271.91 L228.60,268.19 L229.05,270.25 L229.50,269.89 L229.95,274.90 L230.40,272.28 L230.85,270.61 L231.30,274.05 L231.75,268.97 L232.20,272.49 L232.65,273.30 L233.10,273.55 L233.55,273.72 L234.00,273.87 L234.45,274.02 L234.90,274.17 L235.35,274.32 L235.80,274.47 L236.25,274.60 L236.70,274.63 L237.15,274.65 L237.60,274.67 L238.05,274.69 L238.50,274.72 L238.95,274.74 L239.40,274.76 L239.85,274.78 L240.30,274.81 L240.75,274.83 L241.20,274.85" stroke="#555" stroke-width="0.65" fill="none"/>
<path d="M177.40,274.80 L177.85,274.79 L178.30,274.78 L178.75,274.77 L179.20,274.76 L179.65,274.75 L180.10,274.74 L180.55,274.73 L181.00,274.72 L181.45,274.71 L181.90,274.71 L182.35,274.70 L182.80,274.69 L183.25,274.68 L183.70,274.67 L184.15,274.66 L184.60,274.65 L185.05,274.64 L185.50,274.63 L185.95,274.62 L186.40,274.61 L186.85,274.60 L187.30,274.40 L187.75,274.18 L188.20,272.56 L188.65,268.72 L189.10,269.90 L189.55,264.21 L190.00,261.89 L190.45,257.69 L190.90,250.25 L191.35,249.68 L191.80,246.79 L192.25,244.18 L192.70,245.61 L193.15,249.60 L193.60,252.76 L194.05,259.20 L194.50,260.87 L194.95,262.81 L195.40,265.98 L195.85,266.93 L196.30,266.86 L196.75,264.54 L197.20,263.76 L197.65,263.08 L198.10,261.60 L198.55,262.88 L199.00,260.32 L199.45,259.17 L199.90,257.72 L200.35,259.44 L200.80,258.50 L201.25,260.70 L201.70,258.21 L202.15,260.52 L202.60,259.38 L203.05,255.94 L203.50,261.23 L203.95,257.06 L204.40,258.11 L204.85,259.59 L205.30,258.96 L205.75,259.38 L206.20,259.13 L206.65,261.57 L207.10,262.64 L207.55,263.12 L208.00,264.02 L208.45,262.93 L208.90,264.37 L209.35,261.92 L209.80,266.66 L210.25,265.82 L210.70,265.94 L211.15,267.96 L211.60,262.16 L212.05,268.81 L212.50,265.81 L212.95,266.36 L213.40,263.28 L213.85,268.93 L214.30,264.53 L214.75,267.43 L215.20,266.75 L215.65,267.69 L216.10,265.87 L216.55,268.68 L217.00,267.24 L217.45,266.74 L217.90,264.65 L218.35,271.17 L218.80,265.42 L219.25,266.43 L219.70,268.75 L220.15,267.76 L220.60,269.11 L221.05,266.13 L221.50,268.48 L221.95,269.31 L222.40,269.52 L222.85,269.67 L223.30,269.82 L223.75,271.05 L224.20,266.81 L224.65,272.94 L225.10,274.90 L225.55,270.60 L226.00,270.80 L226.45,270.19 L226.90,271.23 L227.35,271.31 L227.80,270.76 L228.25,269.98 L228.70,272.27 L229.15,272.40 L229.60,269.18 L230.05,271.53 L230.50,274.05 L230.95,269.33 L231.40,271.90 L231.85,273.30 L232.30,273.55 L232.75,273.72 L233.20,273.87 L233.65,274.02 L234.10,274.17 L234.55,274.32 L235.00,274.47 L235.45,274.60 L235.90,274.63 L236.35,274.65 L236.80,274.67 L237.25,274.69 L237.70,274.72 L238.15,274.74 L238.60,274.76 L239.05,274.78 L239.50,274.81 L239.95,274.83 L240.40,274.85 L240.85,274.87 L241.30,274.90" stroke="#1a1a1a" stroke-width="0.85" fill="none"/>
<line x1="196.60" y1="239.10" x2="240.30" y2="239.10" stroke="#333" stroke-width="0.9"/>
<line x1="196.60" y1="238.30" x2="196.60" y2="239.90" stroke="#333" stroke-width="0.6"/>
<line x1="240.30" y1="238.30" x2="240.30" y2="239.90" stroke="#333" stroke-width="0.6"/>
<text x="217.40" y="237.20" font-size="6.7" text-anchor="middle" fill="#000">67.67%</text>
<text x="235.70" y="237.40" font-size="2.8" text-anchor="middle" font-weight="bold" fill="#444">M1</text>
<line x1="251.60" y1="215.80" x2="251.60" y2="275.10" stroke="#888" stroke-width="1.0"/>
<line x1="251.60" y1="215.80" x2="252.80" y2="215.80" stroke="#888" stroke-width="0.6"/>
<line x1="251.60" y1="275.10" x2="315.60" y2="275.10" stroke="#777" stroke-width="1.0"/>
<line x1="315.60" y1="275.10" x2="315.60" y2="273.60" stroke="#888" stroke-width="0.6"/>
<line x1="251.60" y1="275.10" x2="251.60" y2="276.10" stroke="#666" stroke-width="0.5"/>
<text x="251.60" y="278.50" font-size="2.9" text-anchor="middle" fill="#222">10<tspan dy="-0.8" font-size="1.8">0</tspan></text>
<line x1="267.60" y1="275.10" x2="267.60" y2="276.10" stroke="#666" stroke-width="0.5"/>
<text x="267.60" y="278.50" font-size="2.9" text-anchor="middle" fill="#222">10<tspan dy="-0.8" font-size="1.8">1</tspan></text>
<line x1="283.60" y1="275.10" x2="283.60" y2="276.10" stroke="#666" stroke-width="0.5"/>
<text x="283.60" y="278.50" font-size="2.9" text-anchor="middle" fill="#222">10<tspan dy="-0.8" font-size="1.8">2</tspan></text>
<line x1="299.60" y1="275.10" x2="299.60" y2="276.10" stroke="#666" stroke-width="0.5"/>
<text x="299.60" y="278.50" font-size="2.9" text-anchor="middle" fill="#222">10<tspan dy="-0.8" font-size="1.8">3</tspan></text>
<line x1="315.60" y1="275.10" x2="315.60" y2="276.10" stroke="#666" stroke-width="0.5"/>
<text x="315.60" y="278.50" font-size="2.9" text-anchor="middle" fill="#222">10<tspan dy="-0.8" font-size="1.8">4</tspan></text>
<text x="283.60" y="281.70" font-size="3.1" text-anchor="middle" fill="#111">FL1-Height</text>
<text x="250.60" y="217.80" font-size="3.2" text-anchor="end" font-weight="bold" fill="#222">2</text>
<path d="M252.40,274.80 L252.85,274.79 L253.30,274.78 L253.75,274.77 L254.20,274.76 L254.65,274.75 L255.10,274.74 L255.55,274.73 L256.00,274.72 L256.45,274.71 L256.90,274.71 L257.35,274.70 L257.80,274.69 L258.25,274.68 L258.70,274.67 L259.15,274.66 L259.60,274.65 L260.05,274.64 L260.50,274.63 L260.95,274.62 L261.40,274.61 L261.85,274.60 L262.30,274.38 L262.75,274.13 L263.20,272.18 L263.65,268.79 L264.10,268.20 L264.55,263.00 L265.00,257.14 L265.45,247.76 L265.90,241.15 L266.35,238.52 L266.80,232.51 L267.25,233.19 L267.70,236.38 L268.15,240.91 L268.60,246.15 L269.05,251.81 L269.50,255.69 L269.95,258.56 L270.40,263.21 L270.85,266.00 L271.30,264.03 L271.75,264.98 L272.20,265.14 L272.65,263.31 L273.10,262.90 L273.55,264.65 L274.00,262.24 L274.45,259.55 L274.90,262.31 L275.35,261.96 L275.80,262.11 L276.25,262.84 L276.70,262.00 L277.15,263.01 L277.60,261.76 L278.05,263.94 L278.50,264.43 L278.95,264.93 L279.40,264.25 L279.85,264.65 L280.30,264.28 L280.75,268.50 L281.20,267.21 L281.65,267.18 L282.10,268.30 L282.55,267.76 L283.00,267.33 L283.45,265.87 L283.90,268.09 L284.35,268.62 L284.80,266.60 L285.25,269.06 L285.70,268.54 L286.15,268.17 L286.60,269.26 L287.05,270.01 L287.50,268.65 L287.95,271.00 L288.40,270.71 L288.85,269.60 L289.30,270.17 L289.75,269.15 L290.20,269.77 L290.65,270.26 L291.10,271.64 L291.55,268.57 L292.00,270.05 L292.45,272.21 L292.90,269.98 L293.35,271.75 L293.80,271.79 L294.25,273.63 L294.70,271.59 L295.15,268.92 L295.60,270.90 L296.05,270.92 L296.50,268.47 L296.95,271.96 L297.40,270.36 L297.85,273.48 L298.30,272.72 L298.75,274.71 L299.20,271.40 L299.65,272.76 L300.10,269.97 L300.55,273.38 L301.00,274.78 L301.45,271.38 L301.90,274.32 L302.35,274.36 L302.80,273.20 L303.25,273.31 L303.70,273.43 L304.15,273.54 L304.60,273.63 L305.05,273.71 L305.50,273.78 L305.95,273.86 L306.40,273.93 L306.85,274.01 L307.30,274.08 L307.75,274.16 L308.20,274.23 L308.65,274.31 L309.10,274.38 L309.55,274.46 L310.00,274.53 L310.45,274.60 L310.90,274.63 L311.35,274.65 L311.80,274.67 L312.25,274.69 L312.70,274.72 L313.15,274.74 L313.60,274.76 L314.05,274.78 L314.50,274.81 L314.95,274.83 L315.40,274.85" stroke="#555" stroke-width="0.65" fill="none"/>
<path d="M251.60,274.80 L252.05,274.79 L252.50,274.78 L252.95,274.77 L253.40,274.76 L253.85,274.75 L254.30,274.74 L254.75,274.73 L255.20,274.72 L255.65,274.71 L256.10,274.71 L256.55,274.70 L257.00,274.69 L257.45,274.68 L257.90,274.67 L258.35,274.66 L258.80,274.65 L259.25,274.64 L259.70,274.63 L260.15,274.62 L260.60,274.61 L261.05,274.60 L261.50,274.38 L261.95,274.13 L262.40,271.81 L262.85,268.85 L263.30,267.25 L263.75,262.25 L264.20,254.17 L264.65,247.19 L265.10,238.54 L265.55,235.87 L266.00,229.81 L266.45,230.18 L266.90,233.63 L267.35,237.53 L267.80,243.88 L268.25,250.43 L268.70,255.13 L269.15,257.21 L269.60,262.39 L270.05,265.60 L270.50,263.69 L270.95,264.39 L271.40,264.17 L271.85,261.98 L272.30,262.95 L272.75,264.11 L273.20,261.29 L273.65,261.37 L274.10,262.11 L274.55,261.70 L275.00,261.26 L275.45,261.04 L275.90,261.99 L276.35,262.03 L276.80,260.80 L277.25,263.98 L277.70,264.50 L278.15,264.37 L278.60,263.45 L279.05,265.67 L279.50,263.95 L279.95,267.12 L280.40,267.27 L280.85,266.71 L281.30,267.81 L281.75,267.79 L282.20,266.95 L282.65,266.90 L283.10,267.74 L283.55,268.35 L284.00,266.96 L284.45,268.12 L284.90,268.92 L285.35,267.59 L285.80,269.83 L286.25,268.89 L286.70,268.52 L287.15,269.32 L287.60,270.00 L288.05,269.20 L288.50,270.22 L288.95,270.40 L289.40,270.95 L289.85,268.75 L290.30,270.73 L290.75,269.15 L291.20,270.05 L291.65,270.82 L292.10,270.01 L292.55,270.53 L293.00,270.80 L293.45,272.43 L293.90,271.10 L294.35,270.39 L294.80,270.91 L295.25,270.52 L295.70,270.13 L296.15,271.33 L296.60,269.88 L297.05,273.48 L297.50,272.32 L297.95,274.71 L298.40,271.48 L298.85,272.32 L299.30,270.84 L299.75,273.00 L300.20,274.78 L300.65,271.58 L301.10,274.32 L301.55,274.36 L302.00,273.20 L302.45,273.31 L302.90,273.43 L303.35,273.54 L303.80,273.63 L304.25,273.71 L304.70,273.78 L305.15,273.86 L305.60,273.93 L306.05,274.01 L306.50,274.08 L306.95,274.16 L307.40,274.23 L307.85,274.31 L308.30,274.38 L308.75,274.46 L309.20,274.53 L309.65,274.60 L310.10,274.63 L310.55,274.65 L311.00,274.67 L311.45,274.69 L311.90,274.72 L312.35,274.74 L312.80,274.76 L313.25,274.78 L313.70,274.81 L314.15,274.83 L314.60,274.85 L315.05,274.87 L315.50,274.90" stroke="#1a1a1a" stroke-width="0.85" fill="none"/>
<line x1="271.40" y1="239.30" x2="314.60" y2="239.30" stroke="#333" stroke-width="0.9"/>
<line x1="271.40" y1="238.50" x2="271.40" y2="240.10" stroke="#333" stroke-width="0.6"/>
<line x1="314.60" y1="238.50" x2="314.60" y2="240.10" stroke="#333" stroke-width="0.6"/>
<text x="294.30" y="237.40" font-size="6.7" text-anchor="middle" fill="#000">39.74%</text>
<text x="310.00" y="237.60" font-size="2.8" text-anchor="middle" font-weight="bold" fill="#444">M1</text>
<line x1="27.80" y1="293.80" x2="27.80" y2="353.20" stroke="#888" stroke-width="1.0"/>
<line x1="27.80" y1="293.80" x2="29.00" y2="293.80" stroke="#888" stroke-width="0.6"/>
<line x1="27.80" y1="353.20" x2="91.80" y2="353.20" stroke="#777" stroke-width="1.0"/>
<line x1="91.80" y1="353.20" x2="91.80" y2="351.70" stroke="#888" stroke-width="0.6"/>
<line x1="27.80" y1="353.20" x2="27.80" y2="354.20" stroke="#666" stroke-width="0.5"/>
<text x="27.80" y="356.60" font-size="2.9" text-anchor="middle" fill="#222">10<tspan dy="-0.8" font-size="1.8">0</tspan></text>
<line x1="43.80" y1="353.20" x2="43.80" y2="354.20" stroke="#666" stroke-width="0.5"/>
<text x="43.80" y="356.60" font-size="2.9" text-anchor="middle" fill="#222">10<tspan dy="-0.8" font-size="1.8">1</tspan></text>
<line x1="59.80" y1="353.20" x2="59.80" y2="354.20" stroke="#666" stroke-width="0.5"/>
<text x="59.80" y="356.60" font-size="2.9" text-anchor="middle" fill="#222">10<tspan dy="-0.8" font-size="1.8">2</tspan></text>
<line x1="75.80" y1="353.20" x2="75.80" y2="354.20" stroke="#666" stroke-width="0.5"/>
<text x="75.80" y="356.60" font-size="2.9" text-anchor="middle" fill="#222">10<tspan dy="-0.8" font-size="1.8">3</tspan></text>
<line x1="91.80" y1="353.20" x2="91.80" y2="354.20" stroke="#666" stroke-width="0.5"/>
<text x="91.80" y="356.60" font-size="2.9" text-anchor="middle" fill="#222">10<tspan dy="-0.8" font-size="1.8">4</tspan></text>
<text x="59.80" y="359.80" font-size="3.1" text-anchor="middle" fill="#111">FL1-Height</text>
<text x="26.80" y="295.80" font-size="3.2" text-anchor="end" font-weight="bold" fill="#222">2</text>
<path d="M28.60,352.90 L29.05,352.89 L29.50,352.87 L29.95,352.86 L30.40,352.85 L30.85,352.84 L31.30,352.82 L31.75,352.81 L32.20,352.80 L32.65,352.78 L33.10,352.77 L33.55,352.76 L34.00,352.75 L34.45,352.73 L34.90,352.72 L35.35,352.71 L35.80,352.57 L36.25,352.27 L36.70,351.97 L37.15,351.61 L37.60,352.00 L38.05,350.80 L38.50,347.99 L38.95,349.68 L39.40,347.07 L39.85,345.15 L40.30,338.52 L40.75,337.21 L41.20,329.68 L41.65,326.83 L42.10,321.57 L42.55,317.22 L43.00,314.79 L43.45,309.62 L43.90,307.77 L44.35,308.19 L44.80,311.06 L45.25,313.58 L45.70,320.87 L46.15,326.01 L46.60,333.88 L47.05,339.19 L47.50,340.79 L47.95,344.14 L48.40,345.42 L48.85,348.13 L49.30,346.08 L49.75,346.61 L50.20,347.60 L50.65,348.80 L51.10,347.28 L51.55,350.07 L52.00,350.36 L52.45,345.96 L52.90,350.85 L53.35,348.78 L53.80,348.60 L54.25,348.49 L54.70,350.83 L55.15,351.60 L55.60,347.01 L56.05,350.61 L56.50,350.75 L56.95,348.13 L57.40,349.31 L57.85,349.35 L58.30,348.85 L58.75,349.90 L59.20,347.93 L59.65,350.50 L60.10,351.23 L60.55,349.65 L61.00,348.28 L61.45,350.75 L61.90,351.59 L62.35,349.60 L62.80,348.51 L63.25,349.14 L63.70,350.36 L64.15,347.72 L64.60,349.97 L65.05,351.33 L65.50,349.01 L65.95,349.59 L66.40,349.72 L66.85,347.44 L67.30,348.54 L67.75,350.00 L68.20,349.15 L68.65,348.75 L69.10,349.20 L69.55,348.66 L70.00,347.43 L70.45,351.61 L70.90,350.52 L71.35,349.60 L71.80,352.16 L72.25,350.80 L72.70,349.20 L73.15,349.56 L73.60,348.55 L74.05,351.22 L74.50,348.42 L74.95,348.59 L75.40,348.56 L75.85,347.84 L76.30,351.24 L76.75,350.93 L77.20,350.97 L77.65,347.23 L78.10,349.33 L78.55,348.88 L79.00,349.09 L79.45,347.49 L79.90,347.79 L80.35,347.72 L80.80,350.12 L81.25,351.14 L81.70,349.26 L82.15,349.25 L82.60,347.74 L83.05,347.60 L83.50,349.19 L83.95,349.26 L84.40,351.44 L84.85,350.13 L85.30,349.83 L85.75,348.81 L86.20,348.34 L86.65,349.32 L87.10,349.44 L87.55,350.30 L88.00,350.78 L88.45,351.01 L88.90,352.55 L89.35,352.94 L89.80,351.90 L90.25,352.17 L90.70,351.43 L91.15,351.34 L91.60,351.76" stroke="#555" stroke-width="0.65" fill="none"/>
<path d="M27.80,352.90 L28.25,352.89 L28.70,352.87 L29.15,352.86 L29.60,352.85 L30.05,352.84 L30.50,352.82 L30.95,352.81 L31.40,352.80 L31.85,352.78 L32.30,352.77 L32.75,352.76 L33.20,352.75 L33.65,352.73 L34.10,352.72 L34.55,352.71 L35.00,352.57 L35.45,352.27 L35.90,351.97 L36.35,351.61 L36.80,352.00 L37.25,351.19 L37.70,348.58 L38.15,350.76 L38.60,346.34 L39.05,345.46 L39.50,339.10 L39.95,336.00 L40.40,328.84 L40.85,324.70 L41.30,317.80 L41.75,314.61 L42.20,311.19 L42.65,306.43 L43.10,303.96 L43.55,305.08 L44.00,306.05 L44.45,312.39 L44.90,319.61 L45.35,323.66 L45.80,331.64 L46.25,338.14 L46.70,340.44 L47.15,343.82 L47.60,345.19 L48.05,346.05 L48.50,344.57 L48.95,347.27 L49.40,347.38 L49.85,347.16 L50.30,346.08 L50.75,348.59 L51.20,349.26 L51.65,346.44 L52.10,350.48 L52.55,349.42 L53.00,348.41 L53.45,346.83 L53.90,350.09 L54.35,351.60 L54.80,348.54 L55.25,349.75 L55.70,349.65 L56.15,348.83 L56.60,349.10 L57.05,349.06 L57.50,349.81 L57.95,348.11 L58.40,347.90 L58.85,349.37 L59.30,349.85 L59.75,348.67 L60.20,348.92 L60.65,350.44 L61.10,349.86 L61.55,348.35 L62.00,349.50 L62.45,349.73 L62.90,349.19 L63.35,349.43 L63.80,349.40 L64.25,351.33 L64.70,347.65 L65.15,349.20 L65.60,350.28 L66.05,348.42 L66.50,349.09 L66.95,349.38 L67.40,348.35 L67.85,347.14 L68.30,348.83 L68.75,347.79 L69.20,347.21 L69.65,350.37 L70.10,349.87 L70.55,348.55 L71.00,351.03 L71.45,349.58 L71.90,348.00 L72.35,348.24 L72.80,348.70 L73.25,351.16 L73.70,346.90 L74.15,348.69 L74.60,348.46 L75.05,348.72 L75.50,350.92 L75.95,350.58 L76.40,350.19 L76.85,346.89 L77.30,349.47 L77.75,348.71 L78.20,348.55 L78.65,347.56 L79.10,347.46 L79.55,347.53 L80.00,349.06 L80.45,351.16 L80.90,348.08 L81.35,348.21 L81.80,347.47 L82.25,349.03 L82.70,349.76 L83.15,348.96 L83.60,351.15 L84.05,350.77 L84.50,350.79 L84.95,349.56 L85.40,347.81 L85.85,349.19 L86.30,348.87 L86.75,349.83 L87.20,349.85 L87.65,350.63 L88.10,350.61 L88.55,352.94 L89.00,351.90 L89.45,352.17 L89.90,350.24 L90.35,351.34 L90.80,351.76 L91.25,352.18 L91.70,352.61" stroke="#1a1a1a" stroke-width="0.85" fill="none"/>
<line x1="48.90" y1="335.90" x2="91.30" y2="335.90" stroke="#333" stroke-width="0.9"/>
<line x1="48.90" y1="335.10" x2="48.90" y2="336.70" stroke="#333" stroke-width="0.6"/>
<line x1="91.30" y1="335.10" x2="91.30" y2="336.70" stroke="#333" stroke-width="0.6"/>
<text x="68.60" y="334.00" font-size="6.7" text-anchor="middle" fill="#000">16.69%</text>
<text x="86.70" y="334.20" font-size="2.8" text-anchor="middle" font-weight="bold" fill="#444">M1</text>
<line x1="102.10" y1="293.80" x2="102.10" y2="353.20" stroke="#888" stroke-width="1.0"/>
<line x1="102.10" y1="293.80" x2="103.30" y2="293.80" stroke="#888" stroke-width="0.6"/>
<line x1="102.10" y1="353.20" x2="166.10" y2="353.20" stroke="#777" stroke-width="1.0"/>
<line x1="166.10" y1="353.20" x2="166.10" y2="351.70" stroke="#888" stroke-width="0.6"/>
<line x1="102.10" y1="353.20" x2="102.10" y2="354.20" stroke="#666" stroke-width="0.5"/>
<text x="102.10" y="356.60" font-size="2.9" text-anchor="middle" fill="#222">10<tspan dy="-0.8" font-size="1.8">0</tspan></text>
<line x1="118.10" y1="353.20" x2="118.10" y2="354.20" stroke="#666" stroke-width="0.5"/>
<text x="118.10" y="356.60" font-size="2.9" text-anchor="middle" fill="#222">10<tspan dy="-0.8" font-size="1.8">1</tspan></text>
<line x1="134.10" y1="353.20" x2="134.10" y2="354.20" stroke="#666" stroke-width="0.5"/>
<text x="134.10" y="356.60" font-size="2.9" text-anchor="middle" fill="#222">10<tspan dy="-0.8" font-size="1.8">2</tspan></text>
<line x1="150.10" y1="353.20" x2="150.10" y2="354.20" stroke="#666" stroke-width="0.5"/>
<text x="150.10" y="356.60" font-size="2.9" text-anchor="middle" fill="#222">10<tspan dy="-0.8" font-size="1.8">3</tspan></text>
<line x1="166.10" y1="353.20" x2="166.10" y2="354.20" stroke="#666" stroke-width="0.5"/>
<text x="166.10" y="356.60" font-size="2.9" text-anchor="middle" fill="#222">10<tspan dy="-0.8" font-size="1.8">4</tspan></text>
<text x="134.10" y="359.80" font-size="3.1" text-anchor="middle" fill="#111">FL1-Height</text>
<text x="101.10" y="295.80" font-size="3.2" text-anchor="end" font-weight="bold" fill="#222">2</text>
<path d="M102.90,352.90 L103.35,352.89 L103.80,352.88 L104.25,352.87 L104.70,352.86 L105.15,352.85 L105.60,352.85 L106.05,352.84 L106.50,352.83 L106.95,352.82 L107.40,352.81 L107.85,352.80 L108.30,352.79 L108.75,352.78 L109.20,352.77 L109.65,352.76 L110.10,352.76 L110.55,352.75 L111.00,352.74 L111.45,352.73 L111.90,352.72 L112.35,352.71 L112.80,352.70 L113.25,352.45 L113.70,352.13 L114.15,351.81 L114.60,352.66 L115.05,351.34 L115.50,347.32 L115.95,345.73 L116.40,339.89 L116.85,337.55 L117.30,336.17 L117.75,327.57 L118.20,326.40 L118.65,323.14 L119.10,320.62 L119.55,320.73 L120.00,327.04 L120.45,333.02 L120.90,337.60 L121.35,341.89 L121.80,342.58 L122.25,342.80 L122.70,347.69 L123.15,345.62 L123.60,346.31 L124.05,349.98 L124.50,345.93 L124.95,346.01 L125.40,346.58 L125.85,347.18 L126.30,346.81 L126.75,351.38 L127.20,348.40 L127.65,347.27 L128.10,347.73 L128.55,348.11 L129.00,345.13 L129.45,347.19 L129.90,347.90 L130.35,346.44 L130.80,350.38 L131.25,345.81 L131.70,345.10 L132.15,347.69 L132.60,351.65 L133.05,348.90 L133.50,347.75 L133.95,352.68 L134.40,344.83 L134.85,345.83 L135.30,347.17 L135.75,347.50 L136.20,345.73 L136.65,348.89 L137.10,344.65 L137.55,348.64 L138.00,345.61 L138.45,346.75 L138.90,344.35 L139.35,342.58 L139.80,345.02 L140.25,345.88 L140.70,344.27 L141.15,343.72 L141.60,345.47 L142.05,343.37 L142.50,342.94 L142.95,344.33 L143.40,345.39 L143.85,342.32 L144.30,345.15 L144.75,345.70 L145.20,345.02 L145.65,344.37 L146.10,339.14 L146.55,340.50 L147.00,342.76 L147.45,344.01 L147.90,342.43 L148.35,344.50 L148.80,344.09 L149.25,345.38 L149.70,340.41 L150.15,344.23 L150.60,345.62 L151.05,345.97 L151.50,343.51 L151.95,341.67 L152.40,339.56 L152.85,343.37 L153.30,344.27 L153.75,341.89 L154.20,344.09 L154.65,344.63 L155.10,346.21 L155.55,346.54 L156.00,348.12 L156.45,345.17 L156.90,344.09 L157.35,344.77 L157.80,343.07 L158.25,344.42 L158.70,346.27 L159.15,344.76 L159.60,348.77 L160.05,344.67 L160.50,347.85 L160.95,345.43 L161.40,346.01 L161.85,347.74 L162.30,347.32 L162.75,347.56 L163.20,348.91 L163.65,347.90 L164.10,349.87 L164.55,346.93 L165.00,348.71 L165.45,352.16 L165.90,351.35" stroke="#555" stroke-width="0.65" fill="none"/>
<path d="M102.10,352.90 L102.55,352.89 L103.00,352.88 L103.45,352.87 L103.90,352.86 L104.35,352.85 L104.80,352.85 L105.25,352.84 L105.70,352.83 L106.15,352.82 L106.60,352.81 L107.05,352.80 L107.50,352.79 L107.95,352.78 L108.40,352.77 L108.85,352.76 L109.30,352.76 L109.75,352.75 L110.20,352.74 L110.65,352.73 L111.10,352.72 L111.55,352.71 L112.00,352.70 L112.45,352.45 L112.90,352.13 L113.35,351.81 L113.80,349.73 L114.25,351.34 L114.70,347.99 L115.15,344.59 L115.60,337.99 L116.05,335.69 L116.50,333.69 L116.95,326.53 L117.40,325.20 L117.85,317.96 L118.30,318.13 L118.75,318.43 L119.20,324.65 L119.65,331.64 L120.10,338.61 L120.55,341.46 L121.00,343.34 L121.45,343.35 L121.90,345.30 L122.35,347.37 L122.80,346.07 L123.25,349.37 L123.70,346.48 L124.15,348.40 L124.60,345.06 L125.05,345.84 L125.50,346.81 L125.95,348.92 L126.40,346.59 L126.85,346.90 L127.30,348.30 L127.75,348.44 L128.20,345.63 L128.65,348.17 L129.10,346.93 L129.55,345.48 L130.00,349.77 L130.45,344.83 L130.90,345.96 L131.35,348.42 L131.80,348.85 L132.25,349.22 L132.70,345.96 L133.15,351.19 L133.60,345.90 L134.05,347.02 L134.50,348.27 L134.95,347.97 L135.40,347.56 L135.85,347.08 L136.30,345.11 L136.75,347.42 L137.20,344.25 L137.65,344.12 L138.10,345.70 L138.55,344.13 L139.00,345.58 L139.45,344.57 L139.90,343.84 L140.35,341.62 L140.80,344.55 L141.25,344.64 L141.70,344.30 L142.15,344.57 L142.60,345.85 L143.05,341.35 L143.50,345.05 L143.95,344.93 L144.40,345.06 L144.85,342.90 L145.30,339.42 L145.75,339.25 L146.20,342.26 L146.65,343.16 L147.10,343.65 L147.55,345.07 L148.00,342.38 L148.45,343.57 L148.90,340.23 L149.35,343.72 L149.80,344.76 L150.25,345.74 L150.70,344.98 L151.15,340.70 L151.60,340.43 L152.05,342.01 L152.50,343.31 L152.95,341.47 L153.40,343.33 L153.85,343.36 L154.30,344.30 L154.75,345.62 L155.20,347.23 L155.65,344.58 L156.10,344.80 L156.55,344.84 L157.00,343.86 L157.45,344.05 L157.90,346.37 L158.35,344.97 L158.80,349.42 L159.25,345.39 L159.70,346.75 L160.15,345.44 L160.60,345.76 L161.05,348.96 L161.50,348.02 L161.95,346.41 L162.40,349.17 L162.85,348.46 L163.30,349.72 L163.75,348.13 L164.20,348.75 L164.65,350.45 L165.10,351.35 L165.80,341.80 L165.80,353.20" stroke="#1a1a1a" stroke-width="0.85" fill="none"/>
<line x1="123.80" y1="333.20" x2="165.80" y2="333.20" stroke="#333" stroke-width="0.9"/>
<line x1="123.80" y1="332.40" x2="123.80" y2="334.00" stroke="#333" stroke-width="0.6"/>
<line x1="165.80" y1="332.40" x2="165.80" y2="334.00" stroke="#333" stroke-width="0.6"/>
<text x="143.90" y="331.30" font-size="6.7" text-anchor="middle" fill="#000">55.40%</text>
<text x="161.20" y="331.50" font-size="2.8" text-anchor="middle" font-weight="bold" fill="#444">M1</text>
<line x1="177.30" y1="293.80" x2="177.30" y2="353.20" stroke="#888" stroke-width="1.0"/>
<line x1="177.30" y1="293.80" x2="178.50" y2="293.80" stroke="#888" stroke-width="0.6"/>
<line x1="177.30" y1="353.20" x2="241.30" y2="353.20" stroke="#777" stroke-width="1.0"/>
<line x1="241.30" y1="353.20" x2="241.30" y2="351.70" stroke="#888" stroke-width="0.6"/>
<line x1="177.30" y1="353.20" x2="177.30" y2="354.20" stroke="#666" stroke-width="0.5"/>
<text x="177.30" y="356.60" font-size="2.9" text-anchor="middle" fill="#222">10<tspan dy="-0.8" font-size="1.8">0</tspan></text>
<line x1="193.30" y1="353.20" x2="193.30" y2="354.20" stroke="#666" stroke-width="0.5"/>
<text x="193.30" y="356.60" font-size="2.9" text-anchor="middle" fill="#222">10<tspan dy="-0.8" font-size="1.8">1</tspan></text>
<line x1="209.30" y1="353.20" x2="209.30" y2="354.20" stroke="#666" stroke-width="0.5"/>
<text x="209.30" y="356.60" font-size="2.9" text-anchor="middle" fill="#222">10<tspan dy="-0.8" font-size="1.8">2</tspan></text>
<line x1="225.30" y1="353.20" x2="225.30" y2="354.20" stroke="#666" stroke-width="0.5"/>
<text x="225.30" y="356.60" font-size="2.9" text-anchor="middle" fill="#222">10<tspan dy="-0.8" font-size="1.8">3</tspan></text>
<line x1="241.30" y1="353.20" x2="241.30" y2="354.20" stroke="#666" stroke-width="0.5"/>
<text x="241.30" y="356.60" font-size="2.9" text-anchor="middle" fill="#222">10<tspan dy="-0.8" font-size="1.8">4</tspan></text>
<text x="209.30" y="359.80" font-size="3.1" text-anchor="middle" fill="#111">FL1-Height</text>
<text x="176.30" y="295.80" font-size="3.2" text-anchor="end" font-weight="bold" fill="#222">2</text>
<path d="M178.10,352.90 L178.55,352.89 L179.00,352.88 L179.45,352.87 L179.90,352.86 L180.35,352.85 L180.80,352.85 L181.25,352.84 L181.70,352.83 L182.15,352.82 L182.60,352.81 L183.05,352.80 L183.50,352.79 L183.95,352.78 L184.40,352.77 L184.85,352.76 L185.30,352.76 L185.75,352.75 L186.20,352.74 L186.65,352.73 L187.10,352.72 L187.55,352.71 L188.00,352.70 L188.45,352.41 L188.90,352.03 L189.35,351.50 L189.80,350.81 L190.25,349.16 L190.70,346.99 L191.15,344.21 L191.60,341.34 L192.05,334.39 L192.50,331.86 L192.95,327.57 L193.40,327.24 L193.85,330.27 L194.30,330.87 L194.75,334.38 L195.20,341.47 L195.65,341.89 L196.10,344.21 L196.55,345.67 L197.00,348.67 L197.45,350.09 L197.90,348.80 L198.35,348.08 L198.80,347.73 L199.25,347.36 L199.70,346.85 L200.15,346.79 L200.60,347.54 L201.05,348.37 L201.50,349.82 L201.95,346.12 L202.40,346.67 L202.85,347.33 L203.30,349.05 L203.75,347.52 L204.20,352.28 L204.65,350.18 L205.10,347.47 L205.55,347.78 L206.00,348.90 L206.45,350.37 L206.90,348.42 L207.35,346.39 L207.80,350.15 L208.25,345.09 L208.70,347.29 L209.15,351.01 L209.60,348.28 L210.05,346.63 L210.50,351.03 L210.95,351.82 L211.40,348.54 L211.85,347.32 L212.30,347.68 L212.75,346.72 L213.20,347.03 L213.65,343.53 L214.10,342.57 L214.55,345.86 L215.00,343.40 L215.45,344.73 L215.90,343.75 L216.35,345.01 L216.80,346.71 L217.25,343.74 L217.70,346.41 L218.15,344.83 L218.60,346.92 L219.05,344.21 L219.50,340.34 L219.95,346.48 L220.40,345.17 L220.85,341.97 L221.30,340.97 L221.75,342.35 L222.20,343.74 L222.65,344.99 L223.10,342.40 L223.55,340.09 L224.00,345.11 L224.45,339.52 L224.90,340.57 L225.35,341.22 L225.80,340.22 L226.25,340.34 L226.70,338.23 L227.15,342.43 L227.60,342.79 L228.05,340.44 L228.50,345.53 L228.95,341.87 L229.40,343.26 L229.85,341.06 L230.30,345.66 L230.75,343.41 L231.20,344.73 L231.65,347.80 L232.10,347.39 L232.55,343.71 L233.00,346.26 L233.45,345.45 L233.90,344.28 L234.35,346.23 L234.80,347.24 L235.25,349.15 L235.70,346.04 L236.15,346.63 L236.60,349.96 L237.05,348.63 L237.50,346.75 L237.95,347.03 L238.40,351.49 L238.85,346.52 L239.30,345.54" stroke="#555" stroke-width="0.65" fill="none"/>
<path d="M177.30,352.90 L177.75,352.89 L178.20,352.88 L178.65,352.87 L179.10,352.86 L179.55,352.85 L180.00,352.85 L180.45,352.84 L180.90,352.83 L181.35,352.82 L181.80,352.81 L182.25,352.80 L182.70,352.79 L183.15,352.78 L183.60,352.77 L184.05,352.76 L184.50,352.76 L184.95,352.75 L185.40,352.74 L185.85,352.73 L186.30,352.72 L186.75,352.71 L187.20,352.70 L187.65,352.41 L188.10,352.03 L188.55,351.50 L189.00,350.05 L189.45,347.07 L189.90,346.35 L190.35,343.34 L190.80,340.06 L191.25,334.79 L191.70,328.93 L192.15,327.26 L192.60,323.64 L193.05,327.53 L193.50,330.01 L193.95,334.42 L194.40,341.70 L194.85,341.49 L195.30,343.72 L195.75,345.30 L196.20,349.07 L196.65,349.63 L197.10,348.82 L197.55,348.43 L198.00,347.32 L198.45,347.90 L198.90,347.11 L199.35,348.90 L199.80,347.53 L200.25,347.45 L200.70,349.09 L201.15,345.57 L201.60,347.37 L202.05,346.46 L202.50,349.24 L202.95,349.47 L203.40,348.91 L203.85,348.50 L204.30,347.35 L204.75,347.88 L205.20,348.88 L205.65,349.60 L206.10,348.90 L206.55,346.24 L207.00,349.24 L207.45,347.62 L207.90,347.30 L208.35,350.13 L208.80,347.78 L209.25,345.85 L209.70,350.78 L210.15,348.20 L210.60,347.56 L211.05,348.18 L211.50,345.75 L211.95,346.14 L212.40,347.80 L212.85,343.91 L213.30,343.70 L213.75,343.11 L214.20,342.20 L214.65,343.65 L215.10,343.85 L215.55,345.81 L216.00,342.76 L216.45,344.44 L216.90,344.03 L217.35,345.08 L217.80,344.53 L218.25,343.76 L218.70,340.92 L219.15,345.79 L219.60,344.81 L220.05,342.15 L220.50,340.23 L220.95,341.42 L221.40,345.00 L221.85,345.73 L222.30,341.21 L222.75,342.65 L223.20,343.02 L223.65,339.67 L224.10,339.27 L224.55,340.49 L225.00,340.15 L225.45,339.66 L225.90,337.92 L226.35,339.65 L226.80,340.06 L227.25,340.27 L227.70,343.71 L228.15,339.69 L228.60,340.62 L229.05,341.78 L229.50,346.06 L229.95,344.58 L230.40,342.89 L230.85,347.39 L231.30,345.48 L231.75,343.98 L232.20,347.79 L232.65,343.72 L233.10,345.62 L233.55,346.98 L234.00,346.56 L234.45,346.30 L234.90,347.32 L235.35,346.01 L235.80,348.94 L236.25,348.80 L236.70,346.80 L237.15,348.50 L237.60,350.04 L238.05,347.48 L238.50,346.88 L239.50,327.20 L239.50,353.20" stroke="#1a1a1a" stroke-width="0.85" fill="none"/>
<line x1="199.80" y1="331.90" x2="239.50" y2="331.90" stroke="#333" stroke-width="0.9"/>
<line x1="199.80" y1="331.10" x2="199.80" y2="332.70" stroke="#333" stroke-width="0.6"/>
<line x1="239.50" y1="331.10" x2="239.50" y2="332.70" stroke="#333" stroke-width="0.6"/>
<text x="217.70" y="330.00" font-size="6.7" text-anchor="middle" fill="#000">64.45%</text>
<text x="234.90" y="330.20" font-size="2.8" text-anchor="middle" font-weight="bold" fill="#444">M1</text>
<line x1="251.10" y1="293.80" x2="251.10" y2="353.20" stroke="#888" stroke-width="1.0"/>
<line x1="251.10" y1="293.80" x2="252.30" y2="293.80" stroke="#888" stroke-width="0.6"/>
<line x1="251.10" y1="353.20" x2="315.10" y2="353.20" stroke="#777" stroke-width="1.0"/>
<line x1="315.10" y1="353.20" x2="315.10" y2="351.70" stroke="#888" stroke-width="0.6"/>
<line x1="251.10" y1="353.20" x2="251.10" y2="354.20" stroke="#666" stroke-width="0.5"/>
<text x="251.10" y="356.60" font-size="2.9" text-anchor="middle" fill="#222">10<tspan dy="-0.8" font-size="1.8">0</tspan></text>
<line x1="267.10" y1="353.20" x2="267.10" y2="354.20" stroke="#666" stroke-width="0.5"/>
<text x="267.10" y="356.60" font-size="2.9" text-anchor="middle" fill="#222">10<tspan dy="-0.8" font-size="1.8">1</tspan></text>
<line x1="283.10" y1="353.20" x2="283.10" y2="354.20" stroke="#666" stroke-width="0.5"/>
<text x="283.10" y="356.60" font-size="2.9" text-anchor="middle" fill="#222">10<tspan dy="-0.8" font-size="1.8">2</tspan></text>
<line x1="299.10" y1="353.20" x2="299.10" y2="354.20" stroke="#666" stroke-width="0.5"/>
<text x="299.10" y="356.60" font-size="2.9" text-anchor="middle" fill="#222">10<tspan dy="-0.8" font-size="1.8">3</tspan></text>
<line x1="315.10" y1="353.20" x2="315.10" y2="354.20" stroke="#666" stroke-width="0.5"/>
<text x="315.10" y="356.60" font-size="2.9" text-anchor="middle" fill="#222">10<tspan dy="-0.8" font-size="1.8">4</tspan></text>
<text x="283.10" y="359.80" font-size="3.1" text-anchor="middle" fill="#111">FL1-Height</text>
<text x="250.10" y="295.80" font-size="3.2" text-anchor="end" font-weight="bold" fill="#222">2</text>
<path d="M251.90,352.90 L252.35,352.89 L252.80,352.88 L253.25,352.87 L253.70,352.86 L254.15,352.85 L254.60,352.84 L255.05,352.83 L255.50,352.82 L255.95,352.80 L256.40,352.79 L256.85,352.78 L257.30,352.77 L257.75,352.76 L258.20,352.75 L258.65,352.74 L259.10,352.73 L259.55,352.72 L260.00,352.71 L260.45,352.66 L260.90,352.28 L261.35,351.91 L261.80,349.99 L262.25,345.79 L262.70,347.47 L263.15,345.56 L263.60,343.40 L264.05,337.90 L264.50,331.96 L264.95,326.45 L265.40,320.62 L265.85,314.99 L266.30,310.98 L266.75,306.00 L267.20,305.96 L267.65,305.55 L268.10,311.01 L268.55,318.10 L269.00,323.79 L269.45,328.30 L269.90,334.75 L270.35,336.36 L270.80,340.87 L271.25,342.02 L271.70,344.37 L272.15,343.58 L272.60,345.08 L273.05,346.43 L273.50,348.45 L273.95,345.91 L274.40,346.73 L274.85,345.76 L275.30,349.36 L275.75,349.29 L276.20,347.82 L276.65,349.75 L277.10,348.39 L277.55,347.64 L278.00,347.94 L278.45,350.23 L278.90,347.23 L279.35,347.04 L279.80,349.23 L280.25,350.38 L280.70,346.81 L281.15,350.56 L281.60,350.22 L282.05,347.36 L282.50,350.25 L282.95,348.83 L283.40,349.44 L283.85,347.34 L284.30,349.43 L284.75,352.00 L285.20,350.08 L285.65,351.47 L286.10,349.09 L286.55,349.52 L287.00,350.10 L287.45,349.97 L287.90,349.02 L288.35,347.30 L288.80,350.37 L289.25,350.00 L289.70,349.57 L290.15,347.87 L290.60,348.09 L291.05,350.32 L291.50,348.50 L291.95,349.06 L292.40,350.18 L292.85,349.24 L293.30,349.54 L293.75,349.19 L294.20,350.72 L294.65,349.07 L295.10,350.30 L295.55,351.21 L296.00,349.46 L296.45,346.97 L296.90,348.94 L297.35,349.35 L297.80,348.56 L298.25,349.12 L298.70,348.01 L299.15,348.65 L299.60,348.65 L300.05,348.19 L300.50,350.95 L300.95,349.28 L301.40,348.40 L301.85,350.24 L302.30,348.63 L302.75,347.82 L303.20,348.73 L303.65,348.61 L304.10,350.73 L304.55,347.66 L305.00,351.39 L305.45,348.88 L305.90,349.46 L306.35,348.93 L306.80,349.92 L307.25,349.86 L307.70,349.24 L308.15,347.93 L308.60,351.32 L309.05,348.71 L309.50,349.57 L309.95,348.39 L310.40,348.03 L310.85,349.74 L311.30,349.31 L311.75,350.79 L312.20,347.57 L312.65,348.28 L313.10,349.20 L313.55,348.68" stroke="#555" stroke-width="0.65" fill="none"/>
<path d="M251.10,352.90 L251.55,352.89 L252.00,352.88 L252.45,352.87 L252.90,352.86 L253.35,352.85 L253.80,352.84 L254.25,352.83 L254.70,352.82 L255.15,352.80 L255.60,352.79 L256.05,352.78 L256.50,352.77 L256.95,352.76 L257.40,352.75 L257.85,352.74 L258.30,352.73 L258.75,352.72 L259.20,352.71 L259.65,352.66 L260.10,352.28 L260.55,351.91 L261.00,350.64 L261.45,347.07 L261.90,346.74 L262.35,345.10 L262.80,341.95 L263.25,336.19 L263.70,329.92 L264.15,324.51 L264.60,318.90 L265.05,312.82 L265.50,307.42 L265.95,302.56 L266.40,301.25 L266.85,302.42 L267.30,307.64 L267.75,314.60 L268.20,321.00 L268.65,326.88 L269.10,333.44 L269.55,335.60 L270.00,339.59 L270.45,341.30 L270.90,343.52 L271.35,341.65 L271.80,344.34 L272.25,345.82 L272.70,347.55 L273.15,345.98 L273.60,347.93 L274.05,346.33 L274.50,349.10 L274.95,348.08 L275.40,347.27 L275.85,348.99 L276.30,348.15 L276.75,348.16 L277.20,347.50 L277.65,348.89 L278.10,347.85 L278.55,346.62 L279.00,350.00 L279.45,349.47 L279.90,348.30 L280.35,349.40 L280.80,350.11 L281.25,347.56 L281.70,348.00 L282.15,347.87 L282.60,347.90 L283.05,348.25 L283.50,349.70 L283.95,351.16 L284.40,348.48 L284.85,349.96 L285.30,348.92 L285.75,348.61 L286.20,350.16 L286.65,349.30 L287.10,347.37 L287.55,348.29 L288.00,350.54 L288.45,349.21 L288.90,349.03 L289.35,348.50 L289.80,348.35 L290.25,349.12 L290.70,349.29 L291.15,348.26 L291.60,350.41 L292.05,347.99 L292.50,348.74 L292.95,349.52 L293.40,349.59 L293.85,348.82 L294.30,350.40 L294.75,351.21 L295.20,348.66 L295.65,347.64 L296.10,349.15 L296.55,348.95 L297.00,349.01 L297.45,349.89 L297.90,348.60 L298.35,348.21 L298.80,348.94 L299.25,348.12 L299.70,349.91 L300.15,348.71 L300.60,349.64 L301.05,349.39 L301.50,348.67 L301.95,348.75 L302.40,348.09 L302.85,348.26 L303.30,349.96 L303.75,347.64 L304.20,350.30 L304.65,348.91 L305.10,348.53 L305.55,348.87 L306.00,348.32 L306.45,348.75 L306.90,349.67 L307.35,348.00 L307.80,348.78 L308.25,349.57 L308.70,348.65 L309.15,348.72 L309.60,348.45 L310.05,349.35 L310.50,348.71 L310.95,349.10 L311.40,347.50 L311.85,349.37 L312.30,347.92 L312.75,349.23 L313.70,324.20 L313.70,353.20" stroke="#1a1a1a" stroke-width="0.85" fill="none"/>
<line x1="272.40" y1="333.90" x2="313.70" y2="333.90" stroke="#333" stroke-width="0.9"/>
<line x1="272.40" y1="333.10" x2="272.40" y2="334.70" stroke="#333" stroke-width="0.6"/>
<line x1="313.70" y1="333.10" x2="313.70" y2="334.70" stroke="#333" stroke-width="0.6"/>
<text x="292.20" y="332.00" font-size="6.7" text-anchor="middle" fill="#000">32.70%</text>
<text x="309.10" y="332.20" font-size="2.8" text-anchor="middle" font-weight="bold" fill="#444">M1</text>
<text x="354.20" y="190.50" font-size="12" text-anchor="start" font-weight="bold" fill="#000">F</text>
<line x1="391.00" y1="331.10" x2="391.00" y2="222.87" stroke="#777" stroke-width="0.9"/>
<line x1="389.00" y1="330.60" x2="391.00" y2="330.60" stroke="#777" stroke-width="0.8"/>
<text x="386.60" y="332.47" font-size="5.2" text-anchor="end" fill="#000">0,00E+00</text>
<line x1="389.00" y1="315.21" x2="391.00" y2="315.21" stroke="#777" stroke-width="0.8"/>
<text x="386.60" y="317.08" font-size="5.2" text-anchor="end" fill="#000">1,00E+06</text>
<line x1="389.00" y1="299.82" x2="391.00" y2="299.82" stroke="#777" stroke-width="0.8"/>
<text x="386.60" y="301.69" font-size="5.2" text-anchor="end" fill="#000">2,00E+06</text>
<line x1="389.00" y1="284.43" x2="391.00" y2="284.43" stroke="#777" stroke-width="0.8"/>
<text x="386.60" y="286.30" font-size="5.2" text-anchor="end" fill="#000">3,00E+06</text>
<line x1="389.00" y1="269.04" x2="391.00" y2="269.04" stroke="#777" stroke-width="0.8"/>
<text x="386.60" y="270.91" font-size="5.2" text-anchor="end" fill="#000">4,00E+06</text>
<line x1="389.00" y1="253.65" x2="391.00" y2="253.65" stroke="#777" stroke-width="0.8"/>
<text x="386.60" y="255.52" font-size="5.2" text-anchor="end" fill="#000">5,00E+06</text>
<line x1="389.00" y1="238.26" x2="391.00" y2="238.26" stroke="#777" stroke-width="0.8"/>
<text x="386.60" y="240.13" font-size="5.2" text-anchor="end" fill="#000">6,00E+06</text>
<line x1="389.00" y1="222.87" x2="391.00" y2="222.87" stroke="#777" stroke-width="0.8"/>
<text x="386.60" y="224.74" font-size="5.2" text-anchor="end" fill="#000">7,00E+06</text>
<line x1="391.00" y1="330.60" x2="497.00" y2="330.60" stroke="#999" stroke-width="1.2"/>
<line x1="391.00" y1="330.60" x2="391.00" y2="332.20" stroke="#777" stroke-width="0.8"/>
<line x1="426.30" y1="330.60" x2="426.30" y2="332.20" stroke="#777" stroke-width="0.8"/>
<line x1="461.70" y1="330.60" x2="461.70" y2="332.20" stroke="#777" stroke-width="0.8"/>
<line x1="497.00" y1="330.60" x2="497.00" y2="332.20" stroke="#777" stroke-width="0.8"/>
<text x="409.40" y="342.10" font-size="6.5" text-anchor="middle" fill="#000">0</text>
<text x="444.60" y="342.10" font-size="6.5" text-anchor="middle" fill="#000">48</text>
<text x="479.40" y="342.10" font-size="6.5" text-anchor="middle" fill="#000">72</text>
<text x="445.00" y="353.60" font-size="6.5" text-anchor="middle" fill="#000">Time (h)</text>
<text x="347.70" y="277.50" font-size="6.5" text-anchor="middle" transform="rotate(-90 347.7 277.5)" fill="#000">Superoxide production</text>
<text x="355.40" y="277.50" font-size="6.4" text-anchor="middle" transform="rotate(-90 355.4 277.5)" fill="#000">(Chemiluminescence RLU)</text>
<line x1="397.00" y1="330.20" x2="420.00" y2="330.20" stroke="#000" stroke-width="0.9"/>
<line x1="436.15" y1="302.77" x2="436.15" y2="303.68" stroke="#111" stroke-width="0.75"/>
<line x1="433.95" y1="302.77" x2="438.35" y2="302.77" stroke="#222" stroke-width="0.8"/>
<line x1="433.95" y1="303.68" x2="438.35" y2="303.68" stroke="#222" stroke-width="0.8"/>
<rect x="432.30" y="303.68" width="7.70" height="26.92" fill="#000" stroke="#111" stroke-width="0.8"/>
<line x1="444.15" y1="299.86" x2="444.15" y2="301.39" stroke="#111" stroke-width="0.75"/>
<line x1="441.95" y1="299.86" x2="446.35" y2="299.86" stroke="#222" stroke-width="0.8"/>
<line x1="441.95" y1="301.39" x2="446.35" y2="301.39" stroke="#222" stroke-width="0.8"/>
<rect x="440.00" y="300.62" width="8.30" height="29.98" fill="#b4b4b4" stroke="#555" stroke-width="0.8"/>
<line x1="444.15" y1="300.62" x2="444.15" y2="301.39" stroke="#111" stroke-width="0.75"/>
<line x1="441.95" y1="301.39" x2="446.35" y2="301.39" stroke="#222" stroke-width="0.8"/>
<line x1="452.30" y1="320.21" x2="452.30" y2="321.43" stroke="#111" stroke-width="0.75"/>
<line x1="450.10" y1="320.21" x2="454.50" y2="320.21" stroke="#222" stroke-width="0.8"/>
<line x1="450.10" y1="321.43" x2="454.50" y2="321.43" stroke="#222" stroke-width="0.8"/>
<rect x="448.30" y="320.82" width="8.00" height="9.78" fill="#fff" stroke="#111" stroke-width="0.8"/>
<line x1="452.30" y1="320.82" x2="452.30" y2="321.43" stroke="#111" stroke-width="0.75"/>
<line x1="450.10" y1="321.43" x2="454.50" y2="321.43" stroke="#222" stroke-width="0.8"/>
<line x1="471.65" y1="239.27" x2="471.65" y2="247.23" stroke="#111" stroke-width="0.75"/>
<line x1="469.45" y1="239.27" x2="473.85" y2="239.27" stroke="#222" stroke-width="0.8"/>
<line x1="469.45" y1="247.23" x2="473.85" y2="247.23" stroke="#222" stroke-width="0.8"/>
<rect x="467.50" y="247.23" width="8.30" height="83.37" fill="#000" stroke="#111" stroke-width="0.8"/>
<line x1="479.75" y1="238.51" x2="479.75" y2="257.02" stroke="#111" stroke-width="0.75"/>
<line x1="477.55" y1="238.51" x2="481.95" y2="238.51" stroke="#222" stroke-width="0.8"/>
<line x1="477.55" y1="257.02" x2="481.95" y2="257.02" stroke="#222" stroke-width="0.8"/>
<rect x="475.80" y="247.23" width="7.90" height="83.37" fill="#b4b4b4" stroke="#555" stroke-width="0.8"/>
<line x1="479.75" y1="247.23" x2="479.75" y2="257.02" stroke="#111" stroke-width="0.75"/>
<line x1="477.55" y1="257.02" x2="481.95" y2="257.02" stroke="#222" stroke-width="0.8"/>
<line x1="487.80" y1="285.48" x2="487.80" y2="289.45" stroke="#111" stroke-width="0.75"/>
<line x1="485.60" y1="285.48" x2="490.00" y2="285.48" stroke="#222" stroke-width="0.8"/>
<line x1="485.60" y1="289.45" x2="490.00" y2="289.45" stroke="#222" stroke-width="0.8"/>
<rect x="483.70" y="287.47" width="8.20" height="43.13" fill="#fff" stroke="#111" stroke-width="0.8"/>
<line x1="487.80" y1="287.47" x2="487.80" y2="289.45" stroke="#111" stroke-width="0.75"/>
<line x1="485.60" y1="289.45" x2="490.00" y2="289.45" stroke="#222" stroke-width="0.8"/>
<path d="M436.10,290.60 L436.10,276.50 L452.20,276.50 L452.20,297.00" stroke="#222" stroke-width="0.75" fill="none"/>
<path d="M444.00,271.40 L444.00,275.00 M445.56,272.30 L442.44,274.10 M445.56,274.10 L442.44,272.30 " stroke="#111" stroke-width="0.9" fill="none"/>
<circle cx="444.00" cy="273.20" r="0.7" fill="#111"/>
<path d="M471.30,234.80 L471.30,223.60 L487.00,223.60 L487.00,263.30" stroke="#222" stroke-width="0.75" fill="none"/>
<path d="M479.50,218.10 L479.50,221.70 M481.06,219.00 L477.94,220.80 M481.06,220.80 L477.94,219.00 " stroke="#111" stroke-width="0.9" fill="none"/>
<circle cx="479.50" cy="219.90" r="0.7" fill="#111"/>
</svg>
</body></html>
